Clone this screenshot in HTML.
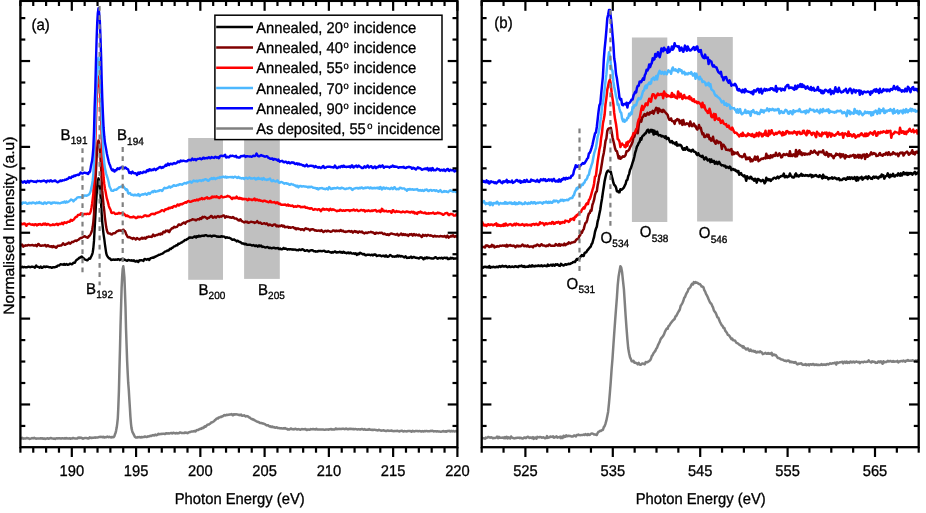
<!DOCTYPE html>
<html><head><meta charset="utf-8"><title>XAS spectra</title>
<style>
html,body{margin:0;padding:0;background:#fff;}
body{width:926px;height:513px;overflow:hidden;}
svg{display:block;will-change:transform;}
text{font-family:"Liberation Sans",sans-serif;fill:#000;text-rendering:geometricPrecision;stroke:#000;stroke-width:0.3px;}
</style></head><body>
<svg width="926" height="513" viewBox="0 0 926 513">
<rect x="0" y="0" width="926" height="513" fill="#fff"/>
<rect x="188.2" y="138" width="34.8" height="141.8" fill="#c0c0c0"/>
<rect x="244.1" y="137.6" width="35.7" height="141.3" fill="#c0c0c0"/>
<rect x="631.9" y="37.5" width="35.4" height="184.5" fill="#c0c0c0"/>
<rect x="697.1" y="37.0" width="35.7" height="184.5" fill="#c0c0c0"/>
<defs><clipPath id="clipA"><rect x="20.4" y="0.9" width="437.0" height="446.3"/></clipPath><clipPath id="clipB"><rect x="481.7" y="0.9" width="437.00000000000006" height="446.3"/></clipPath></defs>
<g clip-path="url(#clipA)">
<path d="M20.1,267.1 L20.7,267.4 L21.4,267.4 L22.0,266.7 L22.7,266.9 L23.3,267.4 L24.0,267.0 L24.6,267.0 L25.2,267.3 L25.9,267.2 L26.5,267.1 L27.2,267.2 L27.8,266.9 L28.5,266.7 L29.1,266.8 L29.7,267.0 L30.4,267.2 L31.0,266.9 L31.7,266.7 L32.3,266.7 L32.9,266.9 L33.6,266.9 L34.2,267.3 L34.9,267.7 L35.5,266.5 L36.2,265.5 L36.8,266.3 L37.4,266.8 L38.1,266.9 L38.7,267.1 L39.4,267.7 L40.0,267.3 L40.7,266.5 L41.3,267.5 L41.9,267.9 L42.6,267.4 L43.2,267.1 L43.9,266.4 L44.5,266.6 L45.2,267.2 L45.8,266.7 L46.4,266.5 L47.1,266.9 L47.7,266.8 L48.4,266.9 L49.0,267.2 L49.7,267.3 L50.3,267.1 L50.9,267.3 L51.6,267.8 L52.2,267.7 L52.9,267.1 L53.5,267.3 L54.2,267.3 L54.8,267.3 L55.4,266.9 L56.1,266.7 L56.7,266.8 L57.4,265.8 L58.0,265.5 L58.6,265.6 L59.3,265.5 L59.9,264.8 L60.6,264.2 L61.2,264.4 L61.9,264.5 L62.5,264.5 L63.1,264.8 L63.8,264.2 L64.4,264.0 L65.1,264.9 L65.7,264.7 L66.4,264.0 L67.0,264.3 L67.6,264.7 L68.3,264.7 L68.9,264.5 L69.6,263.7 L70.2,263.7 L70.9,264.0 L71.5,264.2 L72.1,264.3 L72.8,263.4 L73.4,262.6 L74.1,262.8 L74.7,262.8 L75.4,261.6 L76.0,260.5 L76.6,259.9 L77.3,259.4 L77.9,259.1 L78.6,258.6 L79.2,257.9 L79.9,257.5 L80.5,257.6 L81.1,256.9 L81.8,256.5 L82.4,257.5 L83.1,257.6 L83.7,258.3 L84.3,258.9 L85.0,259.4 L85.6,259.8 L86.3,259.9 L86.9,260.3 L87.6,260.2 L88.2,259.4 L88.8,258.6 L89.5,258.9 L90.1,258.7 L90.8,257.2 L91.4,256.1 L92.1,254.6 L92.7,252.5 L93.3,248.5 L94.0,240.9 L94.6,229.4 L95.3,217.3 L95.9,205.3 L96.6,194.6 L97.2,186.9 L97.8,181.6 L98.5,178.3 L99.1,180.9 L99.8,186.8 L100.4,194.3 L101.1,203.2 L101.7,214.3 L102.3,222.8 L103.0,229.3 L103.6,234.6 L104.3,239.2 L104.9,244.1 L105.6,249.0 L106.2,253.2 L106.8,255.2 L107.5,256.4 L108.1,257.3 L108.8,258.0 L109.4,258.5 L110.0,258.5 L110.7,259.5 L111.3,260.0 L112.0,259.6 L112.6,259.8 L113.3,259.7 L113.9,259.5 L114.5,259.8 L115.2,259.9 L115.8,259.4 L116.5,259.6 L117.1,259.8 L117.8,259.2 L118.4,259.1 L119.0,259.3 L119.7,260.1 L120.3,259.8 L121.0,259.4 L121.6,259.1 L122.3,259.0 L122.9,260.0 L123.5,259.9 L124.2,259.5 L124.8,259.7 L125.5,260.2 L126.1,260.4 L126.8,260.8 L127.4,260.8 L128.0,260.0 L128.7,260.0 L129.3,260.3 L130.0,260.4 L130.6,260.5 L131.3,260.7 L131.9,260.2 L132.5,260.5 L133.2,260.9 L133.8,260.3 L134.5,260.8 L135.1,261.6 L135.7,261.6 L136.4,261.2 L137.0,260.7 L137.7,261.6 L138.3,262.1 L139.0,260.8 L139.6,260.2 L140.2,260.5 L140.9,260.2 L141.5,260.1 L142.2,260.3 L142.8,260.5 L143.5,260.9 L144.1,259.5 L144.7,259.0 L145.4,259.2 L146.0,259.4 L146.7,259.8 L147.3,259.5 L148.0,258.9 L148.6,259.2 L149.2,260.0 L149.9,258.9 L150.5,258.2 L151.2,258.1 L151.8,257.8 L152.5,257.5 L153.1,257.9 L153.7,257.7 L154.4,256.8 L155.0,257.0 L155.7,256.7 L156.3,256.2 L157.0,255.9 L157.6,255.7 L158.2,255.2 L158.9,254.8 L159.5,254.8 L160.2,254.5 L160.8,254.2 L161.4,253.9 L162.1,253.8 L162.7,253.5 L163.4,252.9 L164.0,252.4 L164.7,252.0 L165.3,251.4 L165.9,251.4 L166.6,251.2 L167.2,250.4 L167.9,250.5 L168.5,250.5 L169.2,249.9 L169.8,248.8 L170.4,248.6 L171.1,249.0 L171.7,248.0 L172.4,247.7 L173.0,247.6 L173.7,246.6 L174.3,246.4 L174.9,246.3 L175.6,245.9 L176.2,245.1 L176.9,245.2 L177.5,245.2 L178.2,243.7 L178.8,243.8 L179.4,243.8 L180.1,243.3 L180.7,243.0 L181.4,242.4 L182.0,242.3 L182.7,241.6 L183.3,241.4 L183.9,241.1 L184.6,240.2 L185.2,240.0 L185.9,240.1 L186.5,239.7 L187.1,238.9 L187.8,238.9 L188.4,238.3 L189.1,237.5 L189.7,237.9 L190.4,237.5 L191.0,237.4 L191.6,237.6 L192.3,237.8 L192.9,237.4 L193.6,236.8 L194.2,237.0 L194.9,236.3 L195.5,237.1 L196.1,237.5 L196.8,236.2 L197.4,236.6 L198.1,236.7 L198.7,235.7 L199.4,235.9 L200.0,236.6 L200.6,236.2 L201.3,235.8 L201.9,236.0 L202.6,235.7 L203.2,235.7 L203.9,236.0 L204.5,235.6 L205.1,235.1 L205.8,235.2 L206.4,235.3 L207.1,235.7 L207.7,236.1 L208.4,236.0 L209.0,236.0 L209.6,235.9 L210.3,235.6 L210.9,235.8 L211.6,236.6 L212.2,236.4 L212.8,235.6 L213.5,235.7 L214.1,235.8 L214.8,235.7 L215.4,235.9 L216.1,236.1 L216.7,236.6 L217.3,236.7 L218.0,236.4 L218.6,236.8 L219.3,236.6 L219.9,236.9 L220.6,236.8 L221.2,236.2 L221.8,236.4 L222.5,236.7 L223.1,236.5 L223.8,236.6 L224.4,236.7 L225.1,237.3 L225.7,237.9 L226.3,237.4 L227.0,237.3 L227.6,237.5 L228.3,237.9 L228.9,237.9 L229.6,237.8 L230.2,238.3 L230.8,238.6 L231.5,239.1 L232.1,239.8 L232.8,239.7 L233.4,239.7 L234.1,239.4 L234.7,239.7 L235.3,240.4 L236.0,240.6 L236.6,241.4 L237.3,240.8 L237.9,240.7 L238.5,241.4 L239.2,241.8 L239.8,242.0 L240.5,242.0 L241.1,242.7 L241.8,243.4 L242.4,243.6 L243.0,243.4 L243.7,243.4 L244.3,244.1 L245.0,244.4 L245.6,243.7 L246.3,244.1 L246.9,244.8 L247.5,244.9 L248.2,244.8 L248.8,244.9 L249.5,244.7 L250.1,244.7 L250.8,245.0 L251.4,245.1 L252.0,245.6 L252.7,245.3 L253.3,245.0 L254.0,245.3 L254.6,245.8 L255.3,246.1 L255.9,245.4 L256.5,245.4 L257.2,246.1 L257.8,246.7 L258.5,246.0 L259.1,245.3 L259.8,246.4 L260.4,246.2 L261.0,245.5 L261.7,246.2 L262.3,247.0 L263.0,246.7 L263.6,246.7 L264.2,247.0 L264.9,247.4 L265.5,247.5 L266.2,247.4 L266.8,247.2 L267.5,247.0 L268.1,247.3 L268.7,247.8 L269.4,248.1 L270.0,247.6 L270.7,247.8 L271.3,248.3 L272.0,248.2 L272.6,247.9 L273.2,248.0 L273.9,247.6 L274.5,247.8 L275.2,248.5 L275.8,248.2 L276.5,248.4 L277.1,248.3 L277.7,247.9 L278.4,248.3 L279.0,249.1 L279.7,248.8 L280.3,248.4 L281.0,249.3 L281.6,249.2 L282.2,249.3 L282.9,248.9 L283.5,247.9 L284.2,248.5 L284.8,248.9 L285.5,248.5 L286.1,248.6 L286.7,249.1 L287.4,249.7 L288.0,249.2 L288.7,249.2 L289.3,249.5 L289.9,249.2 L290.6,249.3 L291.2,249.3 L291.9,249.5 L292.5,249.7 L293.2,249.4 L293.8,249.7 L294.4,249.6 L295.1,249.4 L295.7,249.8 L296.4,250.2 L297.0,250.0 L297.7,250.1 L298.3,250.3 L298.9,249.7 L299.6,249.5 L300.2,249.8 L300.9,250.1 L301.5,249.6 L302.2,249.2 L302.8,249.4 L303.4,249.6 L304.1,250.2 L304.7,250.9 L305.4,250.8 L306.0,250.6 L306.7,250.2 L307.3,250.1 L307.9,250.6 L308.6,251.3 L309.2,251.3 L309.9,250.6 L310.5,250.4 L311.2,250.3 L311.8,250.1 L312.4,250.2 L313.1,250.6 L313.7,251.3 L314.4,251.3 L315.0,251.2 L315.6,251.7 L316.3,251.4 L316.9,251.4 L317.6,251.6 L318.2,251.0 L318.9,250.9 L319.5,251.1 L320.1,251.0 L320.8,250.9 L321.4,251.1 L322.1,251.3 L322.7,251.0 L323.4,250.9 L324.0,250.8 L324.6,250.9 L325.3,251.6 L325.9,251.7 L326.6,251.6 L327.2,251.8 L327.9,251.5 L328.5,251.3 L329.1,251.7 L329.8,252.1 L330.4,252.1 L331.1,252.7 L331.7,252.6 L332.4,252.1 L333.0,252.6 L333.6,252.3 L334.3,251.7 L334.9,251.4 L335.6,251.7 L336.2,252.5 L336.9,252.6 L337.5,252.3 L338.1,252.2 L338.8,252.3 L339.4,251.8 L340.1,251.8 L340.7,252.5 L341.3,252.0 L342.0,252.8 L342.6,252.8 L343.3,251.8 L343.9,251.9 L344.6,252.7 L345.2,252.8 L345.8,252.7 L346.5,253.2 L347.1,253.1 L347.8,252.6 L348.4,252.4 L349.1,253.4 L349.7,253.2 L350.3,252.5 L351.0,252.9 L351.6,253.4 L352.3,253.6 L352.9,253.6 L353.6,253.3 L354.2,253.4 L354.8,254.0 L355.5,253.2 L356.1,253.6 L356.8,254.9 L357.4,254.2 L358.1,253.5 L358.7,254.3 L359.3,253.8 L360.0,252.8 L360.6,252.9 L361.3,253.4 L361.9,253.7 L362.6,254.1 L363.2,254.5 L363.8,253.9 L364.5,254.1 L365.1,255.1 L365.8,255.4 L366.4,255.1 L367.0,254.8 L367.7,254.9 L368.3,254.6 L369.0,254.6 L369.6,254.9 L370.3,255.1 L370.9,255.3 L371.5,254.6 L372.2,254.6 L372.8,255.4 L373.5,255.0 L374.1,254.5 L374.8,254.7 L375.4,254.4 L376.0,255.0 L376.7,256.0 L377.3,255.9 L378.0,255.7 L378.6,255.4 L379.3,255.5 L379.9,255.3 L380.5,255.6 L381.2,256.2 L381.8,256.2 L382.5,255.8 L383.1,255.6 L383.8,255.7 L384.4,256.3 L385.0,256.5 L385.7,255.4 L386.3,255.5 L387.0,256.7 L387.6,256.9 L388.3,256.6 L388.9,256.4 L389.5,255.6 L390.2,255.0 L390.8,255.3 L391.5,255.9 L392.1,256.4 L392.7,256.7 L393.4,256.5 L394.0,256.6 L394.7,256.7 L395.3,256.2 L396.0,256.6 L396.6,256.6 L397.2,255.5 L397.9,255.5 L398.5,256.4 L399.2,255.8 L399.8,255.7 L400.5,256.6 L401.1,256.3 L401.7,256.0 L402.4,256.3 L403.0,256.6 L403.7,257.2 L404.3,257.5 L405.0,256.7 L405.6,256.3 L406.2,257.1 L406.9,258.0 L407.5,257.9 L408.2,257.4 L408.8,257.9 L409.5,257.8 L410.1,257.2 L410.7,256.8 L411.4,256.7 L412.0,257.9 L412.7,257.6 L413.3,257.0 L414.0,257.0 L414.6,257.1 L415.2,257.8 L415.9,257.7 L416.5,257.7 L417.2,258.1 L417.8,258.0 L418.4,258.3 L419.1,258.5 L419.7,257.8 L420.4,257.4 L421.0,257.3 L421.7,257.7 L422.3,257.8 L422.9,258.6 L423.6,259.3 L424.2,258.4 L424.9,257.7 L425.5,258.4 L426.2,257.9 L426.8,257.2 L427.4,258.2 L428.1,258.1 L428.7,257.6 L429.4,257.8 L430.0,258.2 L430.7,258.4 L431.3,258.3 L431.9,258.5 L432.6,258.4 L433.2,258.6 L433.9,258.4 L434.5,257.6 L435.2,257.3 L435.8,257.3 L436.4,257.7 L437.1,258.5 L437.7,258.8 L438.4,258.3 L439.0,257.9 L439.7,257.9 L440.3,258.2 L440.9,258.2 L441.6,257.8 L442.2,257.9 L442.9,258.7 L443.5,258.1 L444.1,257.7 L444.8,257.7 L445.4,257.9 L446.1,258.3 L446.7,257.6 L447.4,257.9 L448.0,259.1 L448.6,259.1 L449.3,258.9 L449.9,258.8 L450.6,257.8 L451.2,258.0 L451.9,258.5 L452.5,257.9 L453.1,258.3 L453.8,258.8 L454.4,258.4 L455.1,258.6 L455.7,258.5 L456.4,258.4 L457.0,258.4 L457.6,258.4 L458.3,258.3" fill="none" stroke="#000000" stroke-width="2.4" stroke-linejoin="round" stroke-linecap="butt"/>
<path d="M20.1,245.8 L20.7,245.6 L21.4,245.3 L22.0,244.5 L22.7,245.3 L23.3,246.7 L24.0,245.8 L24.6,245.6 L25.2,245.8 L25.9,245.3 L26.5,245.5 L27.2,245.6 L27.8,245.1 L28.5,244.9 L29.1,245.2 L29.7,245.4 L30.4,245.4 L31.0,245.2 L31.7,245.1 L32.3,244.9 L32.9,245.2 L33.6,245.6 L34.2,245.4 L34.9,245.5 L35.5,245.0 L36.2,245.1 L36.8,246.3 L37.4,245.4 L38.1,243.9 L38.7,243.9 L39.4,244.9 L40.0,245.6 L40.7,245.7 L41.3,245.9 L41.9,245.6 L42.6,245.4 L43.2,245.4 L43.9,245.6 L44.5,245.3 L45.2,244.9 L45.8,245.6 L46.4,246.5 L47.1,246.2 L47.7,245.2 L48.4,245.4 L49.0,246.3 L49.7,246.5 L50.3,246.7 L50.9,246.1 L51.6,246.1 L52.2,247.3 L52.9,246.3 L53.5,246.0 L54.2,247.0 L54.8,247.0 L55.4,246.8 L56.1,247.7 L56.7,247.3 L57.4,246.2 L58.0,245.6 L58.6,245.9 L59.3,245.9 L59.9,245.5 L60.6,245.4 L61.2,245.5 L61.9,245.0 L62.5,244.0 L63.1,243.2 L63.8,244.1 L64.4,244.9 L65.1,244.9 L65.7,244.7 L66.4,243.6 L67.0,243.7 L67.6,243.7 L68.3,242.9 L68.9,242.4 L69.6,243.4 L70.2,243.7 L70.9,242.9 L71.5,242.5 L72.1,241.8 L72.8,242.0 L73.4,242.0 L74.1,241.2 L74.7,240.9 L75.4,240.6 L76.0,240.5 L76.6,241.0 L77.3,240.3 L77.9,240.0 L78.6,239.7 L79.2,238.9 L79.9,238.5 L80.5,238.0 L81.1,238.1 L81.8,237.8 L82.4,237.3 L83.1,237.0 L83.7,236.7 L84.3,236.2 L85.0,236.3 L85.6,236.9 L86.3,237.3 L86.9,237.3 L87.6,237.8 L88.2,237.5 L88.8,236.0 L89.5,236.0 L90.1,235.0 L90.8,233.7 L91.4,232.3 L92.1,230.0 L92.7,226.8 L93.3,222.1 L94.0,214.1 L94.6,199.9 L95.3,186.0 L95.9,172.4 L96.6,159.0 L97.2,148.2 L97.8,142.7 L98.5,140.4 L99.1,142.9 L99.8,148.3 L100.4,157.3 L101.1,168.8 L101.7,181.4 L102.3,190.9 L103.0,199.0 L103.6,205.4 L104.3,211.0 L104.9,217.3 L105.6,222.6 L106.2,227.1 L106.8,230.0 L107.5,232.1 L108.1,233.3 L108.8,233.4 L109.4,233.6 L110.0,233.5 L110.7,234.1 L111.3,234.4 L112.0,234.5 L112.6,233.7 L113.3,233.4 L113.9,233.2 L114.5,233.2 L115.2,233.0 L115.8,232.4 L116.5,231.7 L117.1,231.2 L117.8,231.1 L118.4,230.5 L119.0,230.7 L119.7,230.5 L120.3,230.5 L121.0,230.7 L121.6,230.8 L122.3,230.4 L122.9,229.7 L123.5,229.8 L124.2,230.8 L124.8,230.9 L125.5,232.2 L126.1,234.2 L126.8,235.2 L127.4,236.6 L128.0,237.3 L128.7,237.4 L129.3,237.0 L130.0,237.3 L130.6,238.1 L131.3,237.9 L131.9,238.3 L132.5,239.0 L133.2,238.0 L133.8,238.0 L134.5,238.3 L135.1,238.8 L135.7,239.6 L136.4,238.8 L137.0,238.1 L137.7,238.6 L138.3,238.8 L139.0,239.3 L139.6,239.6 L140.2,238.8 L140.9,238.7 L141.5,237.9 L142.2,237.7 L142.8,238.7 L143.5,238.4 L144.1,237.7 L144.7,237.8 L145.4,238.7 L146.0,238.4 L146.7,237.1 L147.3,237.4 L148.0,237.0 L148.6,236.5 L149.2,236.8 L149.9,236.9 L150.5,236.6 L151.2,236.6 L151.8,236.9 L152.5,235.6 L153.1,234.5 L153.7,234.9 L154.4,236.0 L155.0,236.0 L155.7,235.3 L156.3,235.0 L157.0,235.0 L157.6,235.0 L158.2,234.6 L158.9,233.9 L159.5,234.0 L160.2,234.7 L160.8,233.5 L161.4,233.6 L162.1,234.2 L162.7,232.8 L163.4,231.6 L164.0,231.8 L164.7,232.5 L165.3,231.8 L165.9,230.6 L166.6,231.0 L167.2,231.2 L167.9,230.4 L168.5,231.4 L169.2,232.2 L169.8,231.1 L170.4,229.8 L171.1,229.4 L171.7,228.4 L172.4,227.9 L173.0,228.2 L173.7,227.3 L174.3,226.7 L174.9,227.1 L175.6,227.4 L176.2,226.9 L176.9,226.9 L177.5,226.2 L178.2,225.1 L178.8,224.4 L179.4,224.4 L180.1,225.1 L180.7,224.9 L181.4,224.5 L182.0,223.8 L182.7,223.1 L183.3,223.0 L183.9,222.4 L184.6,223.2 L185.2,223.7 L185.9,222.4 L186.5,221.6 L187.1,221.6 L187.8,221.2 L188.4,221.1 L189.1,221.0 L189.7,220.5 L190.4,220.4 L191.0,220.2 L191.6,219.9 L192.3,219.3 L192.9,219.3 L193.6,219.5 L194.2,219.6 L194.9,219.7 L195.5,220.3 L196.1,220.4 L196.8,219.6 L197.4,219.4 L198.1,219.1 L198.7,219.2 L199.4,219.5 L200.0,218.3 L200.6,218.3 L201.3,219.0 L201.9,217.5 L202.6,216.8 L203.2,217.6 L203.9,217.0 L204.5,216.7 L205.1,217.0 L205.8,217.5 L206.4,217.9 L207.1,218.7 L207.7,218.3 L208.4,217.7 L209.0,217.8 L209.6,217.3 L210.3,216.8 L210.9,215.9 L211.6,215.9 L212.2,216.9 L212.8,217.7 L213.5,217.6 L214.1,217.1 L214.8,216.5 L215.4,216.9 L216.1,217.7 L216.7,216.8 L217.3,216.3 L218.0,216.0 L218.6,216.6 L219.3,217.1 L219.9,216.5 L220.6,216.5 L221.2,216.7 L221.8,216.4 L222.5,215.8 L223.1,215.5 L223.8,215.4 L224.4,216.1 L225.1,217.7 L225.7,217.0 L226.3,216.2 L227.0,217.1 L227.6,216.8 L228.3,216.8 L228.9,216.9 L229.6,217.4 L230.2,217.6 L230.8,217.3 L231.5,217.9 L232.1,217.8 L232.8,217.0 L233.4,217.1 L234.1,218.2 L234.7,218.6 L235.3,218.6 L236.0,218.4 L236.6,218.6 L237.3,219.5 L237.9,219.7 L238.5,220.4 L239.2,220.6 L239.8,219.6 L240.5,219.3 L241.1,220.4 L241.8,221.2 L242.4,221.3 L243.0,221.7 L243.7,222.1 L244.3,222.5 L245.0,221.8 L245.6,221.5 L246.3,222.2 L246.9,221.7 L247.5,221.9 L248.2,222.9 L248.8,222.8 L249.5,222.3 L250.1,222.1 L250.8,221.8 L251.4,221.7 L252.0,222.0 L252.7,222.1 L253.3,222.2 L254.0,222.3 L254.6,223.0 L255.3,222.5 L255.9,222.4 L256.5,222.2 L257.2,221.1 L257.8,221.9 L258.5,222.8 L259.1,223.1 L259.8,222.6 L260.4,222.5 L261.0,223.2 L261.7,223.8 L262.3,223.8 L263.0,223.6 L263.6,223.4 L264.2,223.2 L264.9,223.5 L265.5,224.0 L266.2,223.8 L266.8,223.3 L267.5,224.0 L268.1,225.2 L268.7,225.2 L269.4,224.7 L270.0,224.5 L270.7,224.9 L271.3,225.3 L272.0,225.7 L272.6,225.7 L273.2,224.8 L273.9,224.5 L274.5,224.6 L275.2,224.4 L275.8,225.4 L276.5,226.3 L277.1,225.4 L277.7,225.9 L278.4,226.6 L279.0,225.6 L279.7,225.8 L280.3,226.2 L281.0,225.9 L281.6,225.2 L282.2,225.6 L282.9,226.6 L283.5,225.7 L284.2,225.9 L284.8,227.3 L285.5,227.0 L286.1,226.9 L286.7,227.0 L287.4,226.8 L288.0,226.8 L288.7,227.8 L289.3,227.4 L289.9,227.1 L290.6,227.8 L291.2,227.6 L291.9,227.4 L292.5,227.2 L293.2,227.1 L293.8,227.8 L294.4,228.3 L295.1,228.0 L295.7,229.2 L296.4,229.4 L297.0,228.3 L297.7,228.5 L298.3,228.4 L298.9,229.1 L299.6,229.1 L300.2,229.2 L300.9,229.9 L301.5,229.1 L302.2,229.1 L302.8,229.3 L303.4,230.1 L304.1,230.3 L304.7,228.9 L305.4,228.4 L306.0,228.3 L306.7,228.9 L307.3,229.1 L307.9,228.9 L308.6,229.1 L309.2,229.6 L309.9,230.5 L310.5,229.9 L311.2,229.2 L311.8,229.6 L312.4,229.3 L313.1,229.2 L313.7,229.5 L314.4,230.3 L315.0,230.6 L315.6,230.2 L316.3,230.5 L316.9,230.9 L317.6,230.6 L318.2,230.7 L318.9,230.5 L319.5,230.6 L320.1,231.1 L320.8,230.8 L321.4,230.1 L322.1,230.9 L322.7,231.4 L323.4,232.1 L324.0,231.8 L324.6,231.0 L325.3,231.1 L325.9,230.8 L326.6,231.4 L327.2,231.0 L327.9,230.6 L328.5,231.0 L329.1,231.1 L329.8,231.3 L330.4,231.7 L331.1,231.8 L331.7,231.5 L332.4,231.0 L333.0,230.5 L333.6,230.4 L334.3,230.6 L334.9,231.2 L335.6,231.3 L336.2,230.5 L336.9,230.9 L337.5,231.1 L338.1,230.6 L338.8,230.8 L339.4,231.3 L340.1,230.5 L340.7,229.9 L341.3,230.9 L342.0,231.2 L342.6,230.8 L343.3,230.8 L343.9,231.7 L344.6,231.8 L345.2,231.5 L345.8,232.0 L346.5,231.6 L347.1,231.5 L347.8,231.5 L348.4,231.1 L349.1,230.9 L349.7,231.5 L350.3,231.8 L351.0,231.3 L351.6,231.0 L352.3,232.0 L352.9,232.7 L353.6,232.0 L354.2,231.5 L354.8,231.0 L355.5,231.4 L356.1,232.1 L356.8,231.5 L357.4,231.9 L358.1,232.8 L358.7,232.0 L359.3,231.5 L360.0,231.7 L360.6,232.1 L361.3,232.2 L361.9,231.5 L362.6,232.2 L363.2,233.0 L363.8,233.0 L364.5,233.4 L365.1,232.8 L365.8,232.5 L366.4,232.9 L367.0,233.1 L367.7,232.8 L368.3,232.3 L369.0,232.4 L369.6,232.4 L370.3,232.2 L370.9,231.8 L371.5,232.1 L372.2,232.5 L372.8,232.3 L373.5,232.7 L374.1,233.1 L374.8,233.9 L375.4,233.9 L376.0,232.6 L376.7,232.7 L377.3,233.0 L378.0,233.2 L378.6,233.2 L379.3,232.8 L379.9,232.9 L380.5,233.0 L381.2,232.6 L381.8,232.6 L382.5,233.3 L383.1,234.1 L383.8,234.1 L384.4,233.5 L385.0,233.9 L385.7,234.3 L386.3,234.7 L387.0,234.8 L387.6,234.2 L388.3,234.5 L388.9,235.2 L389.5,234.5 L390.2,234.0 L390.8,233.6 L391.5,233.4 L392.1,233.8 L392.7,233.9 L393.4,234.1 L394.0,234.1 L394.7,234.3 L395.3,234.6 L396.0,234.7 L396.6,234.3 L397.2,233.8 L397.9,234.5 L398.5,235.6 L399.2,234.9 L399.8,234.6 L400.5,234.2 L401.1,233.4 L401.7,233.9 L402.4,235.1 L403.0,234.9 L403.7,234.0 L404.3,235.0 L405.0,234.6 L405.6,234.3 L406.2,235.2 L406.9,234.9 L407.5,234.8 L408.2,235.9 L408.8,235.4 L409.5,234.3 L410.1,234.7 L410.7,234.5 L411.4,234.1 L412.0,235.0 L412.7,235.7 L413.3,234.4 L414.0,234.0 L414.6,234.9 L415.2,235.4 L415.9,234.7 L416.5,234.5 L417.2,235.2 L417.8,235.4 L418.4,235.5 L419.1,234.6 L419.7,235.2 L420.4,236.0 L421.0,236.0 L421.7,237.1 L422.3,236.4 L422.9,234.8 L423.6,235.2 L424.2,235.7 L424.9,235.2 L425.5,234.9 L426.2,235.8 L426.8,236.0 L427.4,234.9 L428.1,234.9 L428.7,235.1 L429.4,235.3 L430.0,235.7 L430.7,235.2 L431.3,235.7 L431.9,235.9 L432.6,236.0 L433.2,236.7 L433.9,236.4 L434.5,235.7 L435.2,235.9 L435.8,236.5 L436.4,236.5 L437.1,236.2 L437.7,236.3 L438.4,236.4 L439.0,236.6 L439.7,236.3 L440.3,235.9 L440.9,236.2 L441.6,236.1 L442.2,236.2 L442.9,236.6 L443.5,236.6 L444.1,236.2 L444.8,235.9 L445.4,236.8 L446.1,237.4 L446.7,236.3 L447.4,235.6 L448.0,236.8 L448.6,237.7 L449.3,237.0 L449.9,236.8 L450.6,236.2 L451.2,235.7 L451.9,236.6 L452.5,235.8 L453.1,235.2 L453.8,236.2 L454.4,236.9 L455.1,236.3 L455.7,236.0 L456.4,236.8 L457.0,236.5 L457.6,235.3 L458.3,235.5" fill="none" stroke="#800000" stroke-width="2.4" stroke-linejoin="round" stroke-linecap="butt"/>
<path d="M20.1,225.2 L20.7,224.2 L21.4,223.6 L22.0,224.3 L22.7,224.0 L23.3,224.1 L24.0,223.5 L24.6,223.5 L25.2,224.0 L25.9,225.4 L26.5,225.8 L27.2,224.4 L27.8,224.2 L28.5,224.0 L29.1,223.7 L29.7,223.8 L30.4,224.4 L31.0,224.5 L31.7,224.7 L32.3,224.7 L32.9,224.3 L33.6,225.0 L34.2,225.2 L34.9,224.4 L35.5,224.1 L36.2,224.5 L36.8,225.4 L37.4,225.0 L38.1,224.2 L38.7,224.7 L39.4,224.4 L40.0,223.9 L40.7,224.6 L41.3,225.0 L41.9,224.7 L42.6,224.7 L43.2,223.6 L43.9,223.7 L44.5,224.5 L45.2,223.4 L45.8,223.9 L46.4,224.9 L47.1,224.6 L47.7,223.9 L48.4,224.1 L49.0,224.6 L49.7,225.1 L50.3,225.4 L50.9,225.0 L51.6,225.1 L52.2,225.0 L52.9,224.2 L53.5,224.5 L54.2,225.1 L54.8,224.8 L55.4,224.3 L56.1,224.5 L56.7,223.8 L57.4,224.0 L58.0,225.1 L58.6,224.1 L59.3,223.8 L59.9,224.0 L60.6,224.1 L61.2,223.5 L61.9,222.7 L62.5,223.6 L63.1,224.3 L63.8,223.0 L64.4,222.2 L65.1,222.9 L65.7,222.7 L66.4,223.0 L67.0,222.6 L67.6,221.8 L68.3,221.6 L68.9,221.7 L69.6,221.8 L70.2,220.8 L70.9,219.8 L71.5,220.2 L72.1,220.8 L72.8,220.1 L73.4,219.8 L74.1,219.3 L74.7,218.2 L75.4,217.3 L76.0,216.8 L76.6,217.1 L77.3,216.2 L77.9,214.9 L78.6,214.9 L79.2,214.8 L79.9,214.9 L80.5,214.2 L81.1,213.2 L81.8,213.6 L82.4,214.6 L83.1,214.8 L83.7,214.4 L84.3,213.9 L85.0,214.0 L85.6,214.0 L86.3,214.2 L86.9,213.9 L87.6,213.6 L88.2,213.9 L88.8,214.0 L89.5,213.9 L90.1,213.2 L90.8,211.2 L91.4,208.0 L92.1,203.7 L92.7,198.9 L93.3,193.8 L94.0,180.0 L94.6,159.2 L95.3,142.9 L95.9,123.2 L96.6,102.3 L97.2,87.0 L97.8,79.5 L98.5,76.4 L99.1,80.2 L99.8,88.0 L100.4,100.3 L101.1,116.6 L101.7,136.8 L102.3,153.1 L103.0,167.3 L103.6,177.5 L104.3,184.0 L104.9,188.2 L105.6,191.7 L106.2,195.2 L106.8,198.4 L107.5,200.5 L108.1,202.9 L108.8,205.8 L109.4,207.6 L110.0,208.6 L110.7,210.3 L111.3,212.6 L112.0,213.1 L112.6,212.6 L113.3,212.6 L113.9,212.5 L114.5,213.2 L115.2,214.1 L115.8,213.9 L116.5,213.7 L117.1,213.8 L117.8,213.7 L118.4,213.1 L119.0,212.8 L119.7,213.5 L120.3,213.3 L121.0,213.1 L121.6,213.1 L122.3,213.2 L122.9,213.8 L123.5,214.0 L124.2,213.8 L124.8,214.7 L125.5,215.4 L126.1,216.1 L126.8,215.5 L127.4,215.5 L128.0,216.4 L128.7,216.3 L129.3,216.8 L130.0,217.3 L130.6,217.4 L131.3,217.1 L131.9,217.3 L132.5,217.2 L133.2,216.6 L133.8,217.0 L134.5,216.9 L135.1,217.5 L135.7,218.1 L136.4,218.1 L137.0,217.7 L137.7,216.7 L138.3,216.8 L139.0,217.2 L139.6,216.9 L140.2,216.8 L140.9,216.9 L141.5,217.3 L142.2,217.0 L142.8,216.7 L143.5,216.6 L144.1,215.7 L144.7,215.5 L145.4,215.3 L146.0,215.5 L146.7,216.2 L147.3,216.1 L148.0,215.7 L148.6,216.1 L149.2,215.8 L149.9,215.1 L150.5,214.8 L151.2,213.9 L151.8,214.1 L152.5,213.9 L153.1,213.7 L153.7,214.2 L154.4,214.2 L155.0,214.0 L155.7,213.0 L156.3,213.0 L157.0,212.9 L157.6,212.4 L158.2,212.5 L158.9,212.2 L159.5,211.9 L160.2,211.4 L160.8,211.2 L161.4,210.4 L162.1,210.2 L162.7,210.4 L163.4,210.6 L164.0,211.3 L164.7,209.9 L165.3,209.2 L165.9,209.7 L166.6,209.0 L167.2,209.1 L167.9,209.1 L168.5,207.9 L169.2,207.8 L169.8,208.2 L170.4,208.1 L171.1,207.4 L171.7,207.3 L172.4,207.8 L173.0,206.9 L173.7,206.1 L174.3,206.2 L174.9,206.0 L175.6,206.5 L176.2,206.5 L176.9,205.2 L177.5,204.5 L178.2,204.7 L178.8,205.6 L179.4,205.3 L180.1,204.2 L180.7,204.3 L181.4,203.9 L182.0,204.4 L182.7,204.0 L183.3,203.2 L183.9,203.2 L184.6,202.9 L185.2,202.2 L185.9,202.5 L186.5,202.7 L187.1,201.8 L187.8,201.3 L188.4,200.9 L189.1,201.3 L189.7,201.8 L190.4,201.7 L191.0,201.7 L191.6,201.5 L192.3,200.9 L192.9,200.8 L193.6,200.8 L194.2,200.3 L194.9,200.2 L195.5,200.6 L196.1,200.3 L196.8,199.5 L197.4,199.6 L198.1,200.4 L198.7,199.9 L199.4,199.0 L200.0,198.9 L200.6,199.3 L201.3,198.5 L201.9,198.1 L202.6,199.2 L203.2,198.6 L203.9,198.6 L204.5,199.1 L205.1,198.2 L205.8,198.0 L206.4,197.6 L207.1,197.2 L207.7,198.5 L208.4,198.3 L209.0,198.2 L209.6,198.5 L210.3,198.1 L210.9,198.1 L211.6,196.8 L212.2,196.5 L212.8,197.4 L213.5,197.1 L214.1,196.5 L214.8,197.0 L215.4,197.2 L216.1,196.4 L216.7,196.3 L217.3,197.3 L218.0,197.3 L218.6,197.3 L219.3,198.1 L219.9,197.7 L220.6,196.6 L221.2,196.1 L221.8,196.5 L222.5,197.3 L223.1,197.4 L223.8,197.2 L224.4,197.0 L225.1,196.9 L225.7,196.8 L226.3,196.6 L227.0,196.3 L227.6,195.8 L228.3,196.2 L228.9,196.5 L229.6,196.4 L230.2,197.2 L230.8,197.7 L231.5,198.6 L232.1,199.1 L232.8,197.8 L233.4,197.8 L234.1,198.3 L234.7,197.8 L235.3,198.1 L236.0,198.2 L236.6,196.6 L237.3,197.3 L237.9,198.3 L238.5,198.6 L239.2,198.7 L239.8,197.7 L240.5,198.6 L241.1,198.8 L241.8,198.3 L242.4,199.3 L243.0,199.4 L243.7,198.8 L244.3,198.9 L245.0,199.3 L245.6,199.0 L246.3,199.0 L246.9,199.6 L247.5,200.3 L248.2,200.0 L248.8,198.8 L249.5,199.3 L250.1,199.6 L250.8,199.5 L251.4,199.7 L252.0,200.2 L252.7,199.9 L253.3,199.5 L254.0,198.8 L254.6,198.5 L255.3,200.2 L255.9,200.3 L256.5,199.5 L257.2,199.4 L257.8,199.9 L258.5,200.5 L259.1,199.9 L259.8,200.2 L260.4,200.8 L261.0,200.9 L261.7,200.6 L262.3,201.1 L263.0,201.5 L263.6,200.9 L264.2,200.6 L264.9,200.6 L265.5,201.3 L266.2,201.3 L266.8,201.5 L267.5,201.9 L268.1,202.1 L268.7,202.3 L269.4,201.9 L270.0,200.9 L270.7,201.2 L271.3,202.4 L272.0,202.4 L272.6,202.4 L273.2,202.3 L273.9,202.1 L274.5,202.0 L275.2,202.8 L275.8,203.3 L276.5,202.7 L277.1,202.3 L277.7,202.5 L278.4,203.7 L279.0,204.1 L279.7,203.4 L280.3,203.9 L281.0,204.8 L281.6,204.8 L282.2,204.6 L282.9,204.8 L283.5,204.8 L284.2,204.8 L284.8,204.4 L285.5,204.8 L286.1,205.3 L286.7,205.6 L287.4,204.8 L288.0,204.4 L288.7,205.7 L289.3,205.4 L289.9,205.3 L290.6,205.9 L291.2,206.0 L291.9,205.7 L292.5,205.5 L293.2,206.2 L293.8,206.9 L294.4,206.6 L295.1,206.3 L295.7,206.4 L296.4,206.9 L297.0,206.5 L297.7,205.7 L298.3,206.2 L298.9,206.4 L299.6,206.2 L300.2,206.8 L300.9,207.3 L301.5,206.9 L302.2,207.2 L302.8,207.0 L303.4,207.0 L304.1,207.1 L304.7,206.5 L305.4,207.5 L306.0,207.9 L306.7,207.5 L307.3,207.5 L307.9,208.1 L308.6,208.4 L309.2,208.3 L309.9,208.8 L310.5,208.6 L311.2,208.1 L311.8,208.3 L312.4,209.0 L313.1,209.7 L313.7,209.8 L314.4,209.5 L315.0,209.0 L315.6,209.4 L316.3,209.4 L316.9,209.4 L317.6,209.9 L318.2,209.4 L318.9,209.1 L319.5,209.4 L320.1,210.1 L320.8,211.2 L321.4,210.5 L322.1,209.6 L322.7,208.7 L323.4,208.8 L324.0,209.7 L324.6,209.3 L325.3,209.6 L325.9,209.4 L326.6,209.0 L327.2,209.7 L327.9,209.3 L328.5,209.6 L329.1,210.5 L329.8,209.7 L330.4,208.7 L331.1,209.5 L331.7,210.1 L332.4,209.4 L333.0,209.3 L333.6,209.7 L334.3,209.8 L334.9,210.2 L335.6,210.4 L336.2,210.8 L336.9,211.2 L337.5,210.8 L338.1,210.7 L338.8,210.9 L339.4,210.8 L340.1,209.8 L340.7,209.9 L341.3,210.4 L342.0,210.7 L342.6,210.7 L343.3,210.3 L343.9,210.4 L344.6,210.9 L345.2,210.8 L345.8,210.1 L346.5,210.2 L347.1,210.1 L347.8,210.1 L348.4,210.2 L349.1,210.3 L349.7,211.1 L350.3,210.8 L351.0,210.1 L351.6,210.2 L352.3,210.4 L352.9,210.1 L353.6,209.5 L354.2,210.0 L354.8,210.5 L355.5,210.5 L356.1,210.1 L356.8,209.8 L357.4,210.2 L358.1,211.1 L358.7,211.1 L359.3,210.6 L360.0,210.6 L360.6,210.2 L361.3,209.9 L361.9,210.2 L362.6,210.5 L363.2,210.6 L363.8,210.0 L364.5,210.4 L365.1,211.6 L365.8,211.1 L366.4,210.6 L367.0,210.8 L367.7,211.0 L368.3,210.3 L369.0,210.6 L369.6,211.0 L370.3,210.9 L370.9,211.2 L371.5,210.5 L372.2,210.5 L372.8,211.0 L373.5,210.7 L374.1,210.2 L374.8,210.4 L375.4,209.9 L376.0,210.6 L376.7,211.5 L377.3,211.0 L378.0,211.3 L378.6,210.9 L379.3,210.5 L379.9,211.5 L380.5,212.0 L381.2,210.4 L381.8,208.8 L382.5,209.3 L383.1,211.0 L383.8,211.2 L384.4,210.8 L385.0,211.2 L385.7,211.0 L386.3,210.8 L387.0,211.5 L387.6,211.6 L388.3,211.5 L388.9,211.1 L389.5,211.2 L390.2,211.3 L390.8,211.6 L391.5,212.8 L392.1,212.0 L392.7,210.2 L393.4,210.3 L394.0,211.3 L394.7,211.9 L395.3,212.2 L396.0,211.6 L396.6,210.9 L397.2,211.7 L397.9,211.6 L398.5,211.5 L399.2,211.9 L399.8,211.8 L400.5,212.2 L401.1,212.2 L401.7,212.3 L402.4,211.7 L403.0,211.5 L403.7,211.9 L404.3,211.9 L405.0,212.4 L405.6,212.2 L406.2,211.5 L406.9,211.4 L407.5,211.6 L408.2,212.2 L408.8,212.0 L409.5,212.2 L410.1,212.7 L410.7,212.2 L411.4,211.6 L412.0,211.8 L412.7,212.6 L413.3,211.8 L414.0,212.1 L414.6,213.4 L415.2,213.1 L415.9,212.7 L416.5,213.6 L417.2,213.9 L417.8,212.6 L418.4,212.2 L419.1,212.5 L419.7,212.5 L420.4,211.6 L421.0,212.0 L421.7,212.7 L422.3,212.5 L422.9,212.8 L423.6,213.1 L424.2,213.0 L424.9,212.4 L425.5,212.8 L426.2,213.7 L426.8,213.4 L427.4,213.4 L428.1,213.7 L428.7,213.0 L429.4,213.5 L430.0,213.4 L430.7,213.2 L431.3,213.4 L431.9,213.2 L432.6,213.0 L433.2,212.5 L433.9,213.4 L434.5,213.9 L435.2,213.5 L435.8,213.3 L436.4,213.5 L437.1,213.1 L437.7,212.6 L438.4,213.1 L439.0,213.2 L439.7,213.0 L440.3,213.4 L440.9,213.6 L441.6,213.6 L442.2,214.3 L442.9,214.8 L443.5,214.7 L444.1,214.3 L444.8,213.7 L445.4,213.2 L446.1,213.2 L446.7,213.0 L447.4,213.0 L448.0,214.1 L448.6,215.0 L449.3,215.1 L449.9,214.2 L450.6,214.0 L451.2,214.0 L451.9,214.2 L452.5,214.5 L453.1,214.5 L453.8,215.6 L454.4,215.6 L455.1,215.6 L455.7,215.3 L456.4,214.3 L457.0,214.8 L457.6,215.6 L458.3,214.9" fill="none" stroke="#ff0000" stroke-width="2.4" stroke-linejoin="round" stroke-linecap="butt"/>
<path d="M20.1,202.8 L20.7,202.8 L21.4,203.7 L22.0,204.0 L22.7,202.7 L23.3,202.5 L24.0,202.9 L24.6,202.9 L25.2,202.5 L25.9,202.6 L26.5,203.3 L27.2,203.8 L27.8,203.8 L28.5,203.4 L29.1,202.7 L29.7,203.4 L30.4,203.2 L31.0,202.8 L31.7,203.4 L32.3,202.6 L32.9,202.5 L33.6,202.6 L34.2,203.0 L34.9,203.2 L35.5,203.6 L36.2,203.0 L36.8,202.4 L37.4,202.8 L38.1,203.1 L38.7,202.6 L39.4,202.1 L40.0,203.0 L40.7,202.6 L41.3,202.9 L41.9,203.6 L42.6,203.6 L43.2,203.9 L43.9,203.1 L44.5,202.4 L45.2,202.7 L45.8,203.3 L46.4,203.7 L47.1,203.1 L47.7,202.5 L48.4,202.5 L49.0,202.5 L49.7,202.7 L50.3,202.8 L50.9,203.7 L51.6,203.6 L52.2,202.6 L52.9,203.0 L53.5,202.7 L54.2,202.4 L54.8,202.7 L55.4,203.1 L56.1,202.6 L56.7,202.8 L57.4,203.2 L58.0,202.7 L58.6,203.1 L59.3,203.3 L59.9,203.3 L60.6,203.1 L61.2,202.7 L61.9,202.7 L62.5,202.2 L63.1,202.5 L63.8,202.5 L64.4,201.5 L65.1,202.5 L65.7,202.8 L66.4,201.4 L67.0,202.1 L67.6,202.2 L68.3,201.8 L68.9,201.4 L69.6,200.8 L70.2,200.3 L70.9,199.5 L71.5,199.6 L72.1,200.1 L72.8,200.6 L73.4,201.4 L74.1,200.5 L74.7,199.7 L75.4,199.6 L76.0,198.9 L76.6,198.3 L77.3,197.5 L77.9,197.4 L78.6,197.3 L79.2,197.3 L79.9,197.1 L80.5,197.4 L81.1,197.4 L81.8,196.8 L82.4,196.9 L83.1,196.8 L83.7,196.1 L84.3,195.6 L85.0,195.4 L85.6,195.7 L86.3,195.9 L86.9,195.5 L87.6,195.3 L88.2,194.8 L88.8,194.6 L89.5,193.9 L90.1,192.6 L90.8,190.6 L91.4,187.3 L92.1,184.4 L92.7,180.2 L93.3,174.2 L94.0,160.6 L94.6,140.8 L95.3,123.5 L95.9,102.9 L96.6,82.8 L97.2,68.9 L97.8,61.8 L98.5,57.7 L99.1,61.7 L99.8,69.4 L100.4,80.9 L101.1,96.8 L101.7,116.8 L102.3,132.8 L103.0,146.0 L103.6,155.5 L104.3,163.1 L104.9,167.8 L105.6,171.0 L106.2,173.8 L106.8,175.6 L107.5,177.8 L108.1,180.0 L108.8,182.7 L109.4,186.2 L110.0,187.5 L110.7,188.8 L111.3,190.6 L112.0,190.7 L112.6,190.7 L113.3,190.8 L113.9,190.2 L114.5,189.7 L115.2,189.7 L115.8,189.7 L116.5,189.7 L117.1,188.9 L117.8,188.5 L118.4,188.1 L119.0,187.3 L119.7,187.3 L120.3,187.0 L121.0,186.6 L121.6,186.5 L122.3,186.2 L122.9,185.9 L123.5,186.4 L124.2,187.5 L124.8,188.2 L125.5,189.2 L126.1,190.1 L126.8,189.3 L127.4,190.1 L128.0,192.9 L128.7,193.7 L129.3,193.1 L130.0,193.0 L130.6,193.9 L131.3,194.9 L131.9,194.8 L132.5,194.7 L133.2,195.2 L133.8,195.5 L134.5,194.6 L135.1,194.6 L135.7,195.3 L136.4,195.0 L137.0,195.3 L137.7,195.4 L138.3,194.0 L139.0,194.6 L139.6,196.1 L140.2,195.4 L140.9,194.8 L141.5,194.8 L142.2,194.4 L142.8,194.3 L143.5,194.6 L144.1,194.2 L144.7,193.8 L145.4,193.5 L146.0,194.1 L146.7,194.8 L147.3,194.4 L148.0,193.6 L148.6,192.9 L149.2,193.1 L149.9,193.9 L150.5,192.8 L151.2,192.5 L151.8,192.1 L152.5,191.3 L153.1,192.2 L153.7,191.6 L154.4,190.7 L155.0,191.1 L155.7,191.8 L156.3,191.4 L157.0,191.4 L157.6,191.0 L158.2,191.0 L158.9,191.1 L159.5,190.3 L160.2,190.3 L160.8,190.2 L161.4,190.4 L162.1,191.0 L162.7,190.2 L163.4,189.1 L164.0,188.3 L164.7,187.8 L165.3,188.1 L165.9,188.2 L166.6,188.0 L167.2,187.8 L167.9,187.8 L168.5,187.1 L169.2,186.4 L169.8,187.1 L170.4,187.7 L171.1,186.8 L171.7,186.8 L172.4,186.6 L173.0,185.8 L173.7,185.1 L174.3,185.4 L174.9,185.9 L175.6,185.8 L176.2,185.9 L176.9,185.3 L177.5,184.9 L178.2,185.2 L178.8,184.9 L179.4,184.2 L180.1,184.1 L180.7,184.3 L181.4,184.5 L182.0,184.7 L182.7,184.2 L183.3,183.8 L183.9,183.4 L184.6,183.0 L185.2,183.2 L185.9,183.5 L186.5,183.5 L187.1,182.5 L187.8,182.4 L188.4,182.6 L189.1,182.1 L189.7,181.7 L190.4,181.4 L191.0,182.5 L191.6,182.8 L192.3,182.0 L192.9,181.4 L193.6,180.5 L194.2,180.8 L194.9,181.0 L195.5,181.3 L196.1,180.9 L196.8,180.7 L197.4,181.6 L198.1,180.9 L198.7,180.6 L199.4,180.5 L200.0,180.2 L200.6,180.6 L201.3,181.1 L201.9,180.6 L202.6,179.9 L203.2,180.5 L203.9,179.9 L204.5,179.4 L205.1,179.5 L205.8,179.1 L206.4,179.6 L207.1,180.1 L207.7,180.7 L208.4,180.9 L209.0,180.3 L209.6,179.6 L210.3,178.9 L210.9,179.0 L211.6,178.1 L212.2,178.6 L212.8,179.1 L213.5,178.0 L214.1,177.9 L214.8,178.6 L215.4,179.2 L216.1,178.6 L216.7,178.2 L217.3,178.2 L218.0,177.6 L218.6,177.6 L219.3,177.9 L219.9,177.1 L220.6,177.5 L221.2,177.4 L221.8,177.0 L222.5,177.1 L223.1,176.7 L223.8,176.8 L224.4,177.3 L225.1,177.0 L225.7,176.6 L226.3,177.7 L227.0,177.5 L227.6,176.9 L228.3,177.4 L228.9,177.1 L229.6,177.1 L230.2,177.0 L230.8,177.1 L231.5,177.4 L232.1,176.8 L232.8,177.4 L233.4,177.7 L234.1,177.1 L234.7,176.8 L235.3,176.7 L236.0,177.1 L236.6,177.4 L237.3,177.9 L237.9,177.4 L238.5,176.8 L239.2,177.9 L239.8,178.1 L240.5,177.8 L241.1,178.4 L241.8,178.5 L242.4,178.1 L243.0,178.0 L243.7,178.5 L244.3,179.0 L245.0,178.1 L245.6,177.9 L246.3,177.8 L246.9,178.1 L247.5,178.8 L248.2,178.4 L248.8,178.0 L249.5,177.5 L250.1,177.9 L250.8,178.6 L251.4,178.3 L252.0,178.6 L252.7,178.6 L253.3,178.1 L254.0,178.1 L254.6,177.9 L255.3,179.1 L255.9,179.6 L256.5,178.6 L257.2,179.1 L257.8,178.1 L258.5,177.8 L259.1,179.0 L259.8,178.7 L260.4,179.0 L261.0,178.6 L261.7,178.5 L262.3,179.7 L263.0,178.9 L263.6,178.0 L264.2,178.9 L264.9,179.5 L265.5,179.4 L266.2,179.6 L266.8,180.0 L267.5,179.5 L268.1,179.4 L268.7,179.5 L269.4,178.8 L270.0,178.5 L270.7,179.8 L271.3,180.8 L272.0,181.3 L272.6,180.9 L273.2,180.1 L273.9,180.9 L274.5,181.1 L275.2,181.3 L275.8,181.5 L276.5,181.2 L277.1,180.4 L277.7,180.4 L278.4,182.1 L279.0,182.9 L279.7,182.8 L280.3,182.4 L281.0,182.0 L281.6,182.0 L282.2,182.3 L282.9,182.8 L283.5,183.0 L284.2,183.8 L284.8,183.4 L285.5,183.2 L286.1,183.1 L286.7,183.4 L287.4,183.9 L288.0,183.6 L288.7,184.0 L289.3,184.8 L289.9,184.9 L290.6,184.2 L291.2,183.9 L291.9,184.3 L292.5,184.6 L293.2,184.5 L293.8,184.9 L294.4,185.5 L295.1,185.4 L295.7,185.5 L296.4,186.6 L297.0,185.9 L297.7,185.8 L298.3,187.4 L298.9,186.7 L299.6,186.2 L300.2,186.0 L300.9,186.0 L301.5,186.5 L302.2,186.5 L302.8,186.4 L303.4,186.1 L304.1,186.3 L304.7,186.5 L305.4,186.5 L306.0,186.8 L306.7,186.6 L307.3,186.8 L307.9,187.5 L308.6,186.7 L309.2,186.7 L309.9,187.3 L310.5,186.9 L311.2,186.7 L311.8,186.9 L312.4,187.2 L313.1,187.7 L313.7,187.6 L314.4,187.9 L315.0,188.1 L315.6,188.0 L316.3,188.8 L316.9,188.1 L317.6,188.1 L318.2,189.4 L318.9,188.9 L319.5,188.3 L320.1,188.4 L320.8,188.2 L321.4,188.2 L322.1,188.0 L322.7,188.3 L323.4,188.9 L324.0,188.6 L324.6,188.8 L325.3,189.3 L325.9,189.0 L326.6,188.3 L327.2,188.7 L327.9,189.5 L328.5,188.0 L329.1,187.0 L329.8,187.7 L330.4,188.5 L331.1,189.1 L331.7,188.7 L332.4,188.3 L333.0,188.7 L333.6,188.1 L334.3,188.0 L334.9,188.4 L335.6,188.2 L336.2,188.3 L336.9,187.8 L337.5,187.5 L338.1,187.9 L338.8,188.4 L339.4,188.2 L340.1,188.6 L340.7,188.6 L341.3,187.7 L342.0,187.7 L342.6,188.1 L343.3,188.2 L343.9,188.7 L344.6,189.0 L345.2,188.9 L345.8,189.0 L346.5,188.5 L347.1,188.6 L347.8,188.6 L348.4,188.3 L349.1,188.0 L349.7,187.9 L350.3,188.2 L351.0,188.3 L351.6,189.1 L352.3,189.9 L352.9,189.6 L353.6,188.6 L354.2,188.6 L354.8,188.6 L355.5,188.1 L356.1,188.0 L356.8,188.1 L357.4,187.9 L358.1,188.5 L358.7,188.5 L359.3,187.8 L360.0,188.3 L360.6,188.2 L361.3,187.4 L361.9,187.4 L362.6,188.0 L363.2,188.5 L363.8,188.4 L364.5,188.1 L365.1,187.6 L365.8,188.1 L366.4,187.9 L367.0,187.5 L367.7,187.5 L368.3,187.4 L369.0,187.9 L369.6,188.5 L370.3,187.5 L370.9,187.5 L371.5,188.3 L372.2,187.9 L372.8,188.5 L373.5,188.1 L374.1,187.8 L374.8,188.3 L375.4,188.3 L376.0,187.8 L376.7,187.9 L377.3,188.3 L378.0,187.6 L378.6,188.1 L379.3,188.8 L379.9,187.3 L380.5,186.9 L381.2,188.5 L381.8,189.5 L382.5,188.9 L383.1,187.6 L383.8,187.4 L384.4,188.5 L385.0,188.8 L385.7,188.2 L386.3,187.8 L387.0,188.3 L387.6,188.5 L388.3,188.3 L388.9,188.6 L389.5,189.1 L390.2,189.0 L390.8,188.4 L391.5,187.7 L392.1,188.0 L392.7,189.1 L393.4,188.7 L394.0,187.4 L394.7,187.2 L395.3,188.1 L396.0,189.2 L396.6,189.4 L397.2,188.9 L397.9,189.0 L398.5,189.3 L399.2,188.6 L399.8,187.7 L400.5,187.8 L401.1,188.0 L401.7,188.4 L402.4,188.6 L403.0,188.4 L403.7,188.4 L404.3,188.5 L405.0,189.4 L405.6,189.5 L406.2,189.8 L406.9,190.7 L407.5,189.3 L408.2,189.1 L408.8,189.8 L409.5,188.9 L410.1,189.0 L410.7,189.6 L411.4,189.6 L412.0,189.3 L412.7,189.2 L413.3,189.8 L414.0,189.8 L414.6,189.4 L415.2,189.5 L415.9,189.4 L416.5,189.6 L417.2,189.1 L417.8,189.6 L418.4,190.6 L419.1,190.3 L419.7,190.6 L420.4,190.0 L421.0,190.6 L421.7,190.7 L422.3,190.0 L422.9,190.6 L423.6,191.0 L424.2,190.9 L424.9,189.8 L425.5,190.0 L426.2,189.6 L426.8,189.4 L427.4,190.3 L428.1,191.0 L428.7,191.1 L429.4,190.3 L430.0,190.2 L430.7,190.0 L431.3,190.2 L431.9,190.8 L432.6,190.5 L433.2,190.2 L433.9,190.2 L434.5,190.2 L435.2,190.9 L435.8,190.5 L436.4,190.2 L437.1,190.8 L437.7,191.3 L438.4,191.7 L439.0,191.4 L439.7,190.6 L440.3,190.1 L440.9,190.8 L441.6,192.0 L442.2,191.9 L442.9,192.0 L443.5,191.7 L444.1,190.9 L444.8,191.8 L445.4,191.5 L446.1,191.2 L446.7,191.8 L447.4,191.6 L448.0,192.2 L448.6,191.8 L449.3,191.0 L449.9,190.5 L450.6,190.3 L451.2,190.9 L451.9,191.2 L452.5,191.4 L453.1,191.7 L453.8,191.5 L454.4,190.6 L455.1,191.0 L455.7,192.0 L456.4,191.5 L457.0,191.0 L457.6,192.2 L458.3,192.9" fill="none" stroke="#4db8ff" stroke-width="2.4" stroke-linejoin="round" stroke-linecap="butt"/>
<path d="M20.1,181.5 L20.7,180.9 L21.4,181.1 L22.0,181.9 L22.7,182.5 L23.3,182.3 L24.0,181.6 L24.6,181.2 L25.2,181.8 L25.9,182.8 L26.5,182.6 L27.2,181.4 L27.8,180.8 L28.5,182.0 L29.1,182.5 L29.7,181.1 L30.4,181.0 L31.0,181.2 L31.7,181.0 L32.3,181.3 L32.9,181.2 L33.6,181.6 L34.2,181.9 L34.9,181.4 L35.5,181.6 L36.2,182.2 L36.8,181.3 L37.4,180.8 L38.1,181.1 L38.7,181.1 L39.4,181.0 L40.0,181.1 L40.7,181.6 L41.3,181.4 L41.9,181.0 L42.6,181.0 L43.2,180.9 L43.9,180.5 L44.5,181.0 L45.2,181.1 L45.8,181.5 L46.4,182.3 L47.1,180.9 L47.7,180.7 L48.4,181.0 L49.0,180.9 L49.7,181.4 L50.3,180.5 L50.9,180.3 L51.6,181.1 L52.2,181.5 L52.9,181.1 L53.5,181.0 L54.2,181.0 L54.8,180.5 L55.4,180.5 L56.1,181.3 L56.7,181.8 L57.4,182.2 L58.0,182.2 L58.6,181.4 L59.3,181.5 L59.9,180.8 L60.6,180.4 L61.2,181.1 L61.9,180.9 L62.5,180.3 L63.1,180.4 L63.8,180.4 L64.4,180.1 L65.1,179.6 L65.7,179.7 L66.4,179.6 L67.0,178.9 L67.6,179.0 L68.3,178.6 L68.9,177.5 L69.6,177.3 L70.2,177.9 L70.9,178.1 L71.5,177.0 L72.1,176.4 L72.8,176.8 L73.4,176.6 L74.1,175.6 L74.7,176.1 L75.4,175.8 L76.0,175.1 L76.6,175.3 L77.3,174.9 L77.9,174.6 L78.6,175.1 L79.2,174.7 L79.9,173.4 L80.5,172.6 L81.1,172.9 L81.8,173.4 L82.4,173.5 L83.1,173.3 L83.7,172.9 L84.3,172.8 L85.0,172.7 L85.6,173.1 L86.3,173.1 L86.9,173.0 L87.6,173.9 L88.2,174.0 L88.8,172.3 L89.5,172.4 L90.1,171.3 L90.8,167.1 L91.4,164.0 L92.1,160.8 L92.7,155.3 L93.3,148.3 L94.0,131.2 L94.6,107.5 L95.3,88.6 L95.9,63.4 L96.6,39.4 L97.2,22.9 L97.8,13.1 L98.5,8.2 L99.1,12.4 L99.8,20.2 L100.4,34.9 L101.1,55.3 L101.7,79.7 L102.3,98.4 L103.0,114.9 L103.6,127.7 L104.3,136.5 L104.9,142.1 L105.6,146.3 L106.2,149.5 L106.8,153.2 L107.5,156.5 L108.1,159.1 L108.8,162.1 L109.4,163.9 L110.0,165.2 L110.7,167.4 L111.3,168.9 L112.0,170.0 L112.6,170.5 L113.3,169.6 L113.9,170.5 L114.5,171.6 L115.2,170.2 L115.8,170.1 L116.5,170.3 L117.1,168.7 L117.8,168.2 L118.4,168.5 L119.0,169.1 L119.7,168.7 L120.3,167.7 L121.0,167.6 L121.6,167.3 L122.3,166.9 L122.9,167.1 L123.5,168.0 L124.2,168.4 L124.8,167.8 L125.5,167.4 L126.1,168.2 L126.8,168.8 L127.4,168.9 L128.0,169.2 L128.7,171.1 L129.3,172.9 L130.0,172.1 L130.6,172.3 L131.3,173.5 L131.9,172.3 L132.5,171.6 L133.2,172.6 L133.8,173.2 L134.5,173.4 L135.1,173.1 L135.7,173.2 L136.4,174.1 L137.0,175.0 L137.7,173.9 L138.3,172.5 L139.0,173.8 L139.6,173.7 L140.2,172.2 L140.9,172.5 L141.5,172.8 L142.2,173.0 L142.8,172.8 L143.5,171.8 L144.1,171.7 L144.7,172.0 L145.4,172.4 L146.0,172.2 L146.7,170.6 L147.3,170.0 L148.0,171.1 L148.6,171.1 L149.2,169.4 L149.9,169.2 L150.5,170.0 L151.2,170.5 L151.8,169.9 L152.5,169.5 L153.1,170.1 L153.7,169.3 L154.4,168.7 L155.0,169.5 L155.7,170.2 L156.3,169.6 L157.0,168.8 L157.6,168.7 L158.2,168.3 L158.9,167.6 L159.5,167.1 L160.2,166.9 L160.8,167.1 L161.4,168.0 L162.1,167.8 L162.7,167.0 L163.4,167.4 L164.0,166.6 L164.7,166.4 L165.3,165.3 L165.9,164.7 L166.6,165.8 L167.2,164.6 L167.9,163.6 L168.5,164.9 L169.2,165.1 L169.8,164.0 L170.4,163.7 L171.1,163.8 L171.7,164.1 L172.4,164.3 L173.0,163.7 L173.7,163.1 L174.3,163.0 L174.9,163.6 L175.6,163.6 L176.2,163.2 L176.9,162.8 L177.5,161.8 L178.2,161.4 L178.8,162.0 L179.4,162.2 L180.1,161.4 L180.7,160.5 L181.4,160.8 L182.0,161.2 L182.7,160.9 L183.3,160.7 L183.9,160.8 L184.6,161.0 L185.2,161.1 L185.9,161.3 L186.5,161.3 L187.1,161.2 L187.8,160.4 L188.4,159.9 L189.1,160.2 L189.7,160.0 L190.4,159.9 L191.0,160.5 L191.6,159.8 L192.3,158.5 L192.9,159.3 L193.6,160.0 L194.2,159.7 L194.9,159.0 L195.5,159.4 L196.1,160.2 L196.8,159.4 L197.4,158.9 L198.1,158.9 L198.7,158.9 L199.4,158.7 L200.0,158.3 L200.6,158.9 L201.3,159.3 L201.9,158.7 L202.6,158.7 L203.2,157.6 L203.9,157.7 L204.5,158.6 L205.1,158.2 L205.8,158.3 L206.4,157.9 L207.1,158.2 L207.7,158.2 L208.4,157.4 L209.0,157.3 L209.6,157.7 L210.3,158.3 L210.9,157.9 L211.6,156.9 L212.2,157.5 L212.8,157.6 L213.5,157.6 L214.1,157.9 L214.8,157.1 L215.4,156.7 L216.1,157.1 L216.7,157.7 L217.3,157.4 L218.0,157.3 L218.6,158.2 L219.3,157.7 L219.9,156.2 L220.6,155.8 L221.2,155.6 L221.8,155.8 L222.5,156.0 L223.1,155.7 L223.8,156.1 L224.4,155.6 L225.1,154.7 L225.7,156.7 L226.3,157.6 L227.0,157.0 L227.6,156.7 L228.3,157.2 L228.9,157.3 L229.6,156.6 L230.2,155.8 L230.8,155.8 L231.5,156.0 L232.1,155.7 L232.8,155.8 L233.4,156.1 L234.1,156.2 L234.7,156.6 L235.3,156.2 L236.0,155.8 L236.6,157.2 L237.3,157.3 L237.9,157.1 L238.5,157.6 L239.2,157.6 L239.8,157.5 L240.5,156.4 L241.1,156.0 L241.8,156.4 L242.4,155.9 L243.0,155.9 L243.7,156.0 L244.3,155.5 L245.0,156.2 L245.6,156.9 L246.3,156.5 L246.9,156.1 L247.5,156.2 L248.2,156.4 L248.8,156.4 L249.5,156.5 L250.1,156.4 L250.8,156.5 L251.4,156.8 L252.0,156.7 L252.7,156.1 L253.3,155.6 L254.0,156.0 L254.6,156.1 L255.3,155.8 L255.9,154.7 L256.5,153.5 L257.2,154.6 L257.8,155.9 L258.5,156.3 L259.1,156.4 L259.8,155.9 L260.4,155.6 L261.0,155.0 L261.7,155.4 L262.3,155.8 L263.0,155.8 L263.6,156.2 L264.2,156.3 L264.9,156.7 L265.5,156.6 L266.2,156.2 L266.8,156.3 L267.5,156.5 L268.1,157.7 L268.7,158.0 L269.4,158.0 L270.0,158.7 L270.7,158.7 L271.3,158.9 L272.0,158.4 L272.6,158.4 L273.2,159.8 L273.9,159.5 L274.5,159.0 L275.2,159.2 L275.8,159.5 L276.5,159.5 L277.1,160.2 L277.7,160.7 L278.4,159.5 L279.0,160.5 L279.7,161.7 L280.3,161.3 L281.0,161.3 L281.6,161.0 L282.2,160.8 L282.9,161.4 L283.5,162.1 L284.2,162.3 L284.8,162.1 L285.5,161.6 L286.1,161.6 L286.7,162.4 L287.4,163.2 L288.0,162.7 L288.7,162.0 L289.3,162.8 L289.9,163.4 L290.6,163.3 L291.2,162.6 L291.9,162.2 L292.5,162.7 L293.2,163.0 L293.8,162.6 L294.4,163.2 L295.1,164.1 L295.7,163.9 L296.4,163.4 L297.0,163.3 L297.7,164.4 L298.3,163.9 L298.9,163.6 L299.6,164.6 L300.2,164.3 L300.9,164.5 L301.5,164.7 L302.2,165.0 L302.8,165.5 L303.4,165.2 L304.1,165.9 L304.7,166.3 L305.4,166.1 L306.0,165.3 L306.7,164.6 L307.3,165.6 L307.9,166.4 L308.6,166.1 L309.2,166.1 L309.9,165.8 L310.5,165.7 L311.2,165.7 L311.8,165.9 L312.4,166.2 L313.1,165.9 L313.7,166.2 L314.4,167.3 L315.0,166.9 L315.6,166.0 L316.3,166.9 L316.9,167.0 L317.6,167.4 L318.2,167.7 L318.9,167.0 L319.5,167.1 L320.1,167.9 L320.8,168.0 L321.4,167.5 L322.1,167.3 L322.7,166.4 L323.4,166.0 L324.0,167.3 L324.6,168.0 L325.3,167.6 L325.9,167.5 L326.6,167.0 L327.2,166.9 L327.9,166.7 L328.5,166.7 L329.1,166.8 L329.8,166.6 L330.4,167.0 L331.1,167.0 L331.7,167.1 L332.4,167.4 L333.0,167.3 L333.6,167.6 L334.3,166.8 L334.9,165.6 L335.6,166.5 L336.2,167.5 L336.9,168.1 L337.5,168.0 L338.1,167.5 L338.8,166.8 L339.4,166.8 L340.1,167.4 L340.7,166.7 L341.3,166.0 L342.0,166.4 L342.6,166.9 L343.3,165.7 L343.9,165.6 L344.6,166.9 L345.2,166.8 L345.8,166.8 L346.5,167.1 L347.1,166.6 L347.8,166.6 L348.4,166.9 L349.1,166.3 L349.7,166.5 L350.3,167.5 L351.0,166.8 L351.6,165.5 L352.3,165.4 L352.9,167.0 L353.6,167.6 L354.2,166.7 L354.8,166.5 L355.5,166.1 L356.1,165.6 L356.8,166.1 L357.4,167.1 L358.1,166.2 L358.7,165.6 L359.3,166.2 L360.0,166.6 L360.6,167.0 L361.3,167.5 L361.9,168.0 L362.6,168.0 L363.2,168.0 L363.8,167.0 L364.5,166.2 L365.1,167.2 L365.8,167.6 L366.4,167.1 L367.0,166.2 L367.7,165.4 L368.3,166.5 L369.0,167.5 L369.6,167.0 L370.3,166.7 L370.9,166.1 L371.5,166.4 L372.2,167.6 L372.8,168.1 L373.5,167.7 L374.1,166.9 L374.8,166.4 L375.4,167.1 L376.0,168.2 L376.7,167.5 L377.3,166.9 L378.0,167.2 L378.6,166.8 L379.3,165.7 L379.9,165.8 L380.5,167.1 L381.2,166.6 L381.8,166.0 L382.5,165.3 L383.1,166.2 L383.8,167.8 L384.4,167.2 L385.0,166.9 L385.7,166.6 L386.3,166.7 L387.0,166.8 L387.6,166.8 L388.3,166.9 L388.9,167.0 L389.5,167.7 L390.2,167.0 L390.8,166.5 L391.5,166.8 L392.1,166.3 L392.7,165.5 L393.4,166.3 L394.0,166.8 L394.7,166.3 L395.3,166.9 L396.0,166.7 L396.6,166.6 L397.2,167.0 L397.9,167.3 L398.5,167.8 L399.2,167.1 L399.8,167.1 L400.5,167.4 L401.1,167.1 L401.7,167.1 L402.4,167.4 L403.0,167.0 L403.7,166.8 L404.3,167.9 L405.0,167.7 L405.6,168.1 L406.2,167.9 L406.9,167.2 L407.5,167.4 L408.2,167.0 L408.8,166.8 L409.5,166.9 L410.1,167.4 L410.7,167.3 L411.4,167.8 L412.0,168.8 L412.7,167.8 L413.3,167.6 L414.0,168.3 L414.6,168.1 L415.2,169.1 L415.9,169.6 L416.5,168.7 L417.2,168.3 L417.8,167.3 L418.4,167.6 L419.1,168.3 L419.7,168.0 L420.4,168.4 L421.0,168.8 L421.7,169.7 L422.3,169.7 L422.9,169.4 L423.6,169.0 L424.2,168.7 L424.9,169.1 L425.5,168.4 L426.2,169.0 L426.8,169.3 L427.4,167.9 L428.1,169.0 L428.7,170.5 L429.4,169.5 L430.0,168.4 L430.7,170.1 L431.3,170.4 L431.9,168.3 L432.6,168.0 L433.2,169.8 L433.9,170.4 L434.5,169.9 L435.2,170.2 L435.8,170.2 L436.4,169.6 L437.1,168.6 L437.7,169.0 L438.4,169.3 L439.0,169.1 L439.7,170.4 L440.3,170.7 L440.9,170.0 L441.6,169.8 L442.2,170.2 L442.9,170.6 L443.5,169.7 L444.1,169.5 L444.8,170.8 L445.4,171.1 L446.1,170.1 L446.7,169.5 L447.4,169.0 L448.0,169.0 L448.6,170.6 L449.3,170.9 L449.9,169.9 L450.6,169.8 L451.2,170.1 L451.9,170.4 L452.5,170.3 L453.1,170.0 L453.8,170.5 L454.4,171.5 L455.1,171.1 L455.7,170.2 L456.4,171.0 L457.0,170.7 L457.6,169.9 L458.3,170.4" fill="none" stroke="#0000ff" stroke-width="2.4" stroke-linejoin="round" stroke-linecap="butt"/>
<path d="M20.4,438.4 L20.9,438.7 L21.5,438.1 L22.1,437.8 L22.6,438.4 L23.2,438.7 L23.7,438.6 L24.3,438.6 L24.8,438.6 L25.4,438.4 L25.9,438.4 L26.5,438.1 L27.0,438.0 L27.6,438.2 L28.1,438.3 L28.7,438.5 L29.2,438.8 L29.8,438.9 L30.3,438.7 L30.9,438.6 L31.4,438.4 L32.0,438.1 L32.5,438.2 L33.1,438.4 L33.6,438.2 L34.2,437.8 L34.7,438.2 L35.3,438.3 L35.8,438.5 L36.4,438.7 L36.9,438.5 L37.5,438.5 L38.0,438.6 L38.6,438.6 L39.1,438.6 L39.7,438.5 L40.2,438.3 L40.8,438.3 L41.3,438.4 L41.9,438.6 L42.4,438.3 L43.0,438.7 L43.5,438.8 L44.1,438.4 L44.6,438.5 L45.2,438.9 L45.7,438.8 L46.3,438.6 L46.8,438.6 L47.4,438.2 L47.9,438.4 L48.5,438.8 L49.0,438.6 L49.6,438.5 L50.1,438.2 L50.7,438.0 L51.2,438.2 L51.8,438.5 L52.3,438.5 L52.9,438.5 L53.4,438.7 L54.0,438.7 L54.5,438.6 L55.1,438.9 L55.6,438.5 L56.2,438.4 L56.7,438.3 L57.3,438.2 L57.8,438.6 L58.4,438.4 L58.9,438.2 L59.5,438.3 L60.0,438.4 L60.6,438.4 L61.1,438.3 L61.7,438.4 L62.2,438.4 L62.8,438.2 L63.3,438.4 L63.9,438.6 L64.4,438.4 L65.0,438.1 L65.5,438.6 L66.1,438.5 L66.6,438.1 L67.2,438.3 L67.7,438.4 L68.3,438.5 L68.8,438.4 L69.4,438.3 L69.9,438.6 L70.5,438.7 L71.0,438.4 L71.6,438.5 L72.1,438.5 L72.7,438.0 L73.2,438.0 L73.8,438.2 L74.3,438.3 L74.9,438.4 L75.4,438.5 L76.0,438.5 L76.5,438.4 L77.1,438.6 L77.6,438.3 L78.2,437.6 L78.7,437.9 L79.3,438.0 L79.8,437.6 L80.4,437.7 L80.9,438.0 L81.5,437.7 L82.0,438.0 L82.6,438.6 L83.1,438.7 L83.7,438.4 L84.2,438.2 L84.8,438.1 L85.3,438.1 L85.9,438.1 L86.4,438.1 L87.0,438.2 L87.5,438.3 L88.1,438.5 L88.6,438.5 L89.2,438.0 L89.7,437.4 L90.3,437.7 L90.8,437.9 L91.4,437.8 L91.9,437.9 L92.5,437.8 L93.0,437.8 L93.6,437.8 L94.1,437.7 L94.7,437.4 L95.2,437.5 L95.8,437.7 L96.3,437.5 L96.9,437.5 L97.4,437.5 L98.0,437.4 L98.5,437.2 L99.1,437.1 L99.6,436.9 L100.2,436.8 L100.7,436.9 L101.3,437.0 L101.8,436.8 L102.4,437.2 L102.9,437.3 L103.5,436.8 L104.0,437.4 L104.6,437.4 L105.1,437.1 L105.7,437.3 L106.2,437.2 L106.8,436.8 L107.3,436.6 L107.9,436.9 L108.4,437.2 L109.0,436.9 L109.5,436.8 L110.1,437.1 L110.6,437.3 L111.2,437.4 L111.7,437.1 L112.3,437.0 L112.8,437.2 L113.4,437.2 L113.9,437.0 L114.5,435.9 L115.0,434.2 L115.6,432.8 L116.1,430.6 L116.7,427.6 L117.2,423.8 L117.8,418.3 L118.3,407.7 L118.9,391.5 L119.4,370.8 L120.0,348.2 L120.5,326.5 L121.1,305.8 L121.6,288.4 L122.2,275.8 L122.7,269.0 L123.3,266.3 L123.8,270.5 L124.4,277.4 L124.9,290.3 L125.5,307.1 L126.0,328.2 L126.6,345.8 L127.1,360.4 L127.7,373.1 L128.2,382.7 L128.8,390.2 L129.3,398.6 L129.9,408.0 L130.4,416.6 L131.0,423.8 L131.5,428.1 L132.1,430.6 L132.6,432.4 L133.2,433.4 L133.7,434.4 L134.3,435.6 L134.8,436.7 L135.4,437.1 L135.9,437.5 L136.5,437.6 L137.0,437.6 L137.6,437.2 L138.1,437.1 L138.7,437.3 L139.2,437.2 L139.8,437.0 L140.3,437.3 L140.9,437.5 L141.4,437.0 L142.0,437.1 L142.5,437.3 L143.1,437.1 L143.6,437.0 L144.2,437.0 L144.7,436.6 L145.3,436.5 L145.8,436.9 L146.4,437.1 L146.9,437.0 L147.5,436.6 L148.0,436.3 L148.6,436.4 L149.1,436.5 L149.7,436.2 L150.2,435.8 L150.8,436.0 L151.3,436.0 L151.9,435.6 L152.4,435.3 L153.0,435.1 L153.5,435.4 L154.1,435.6 L154.6,435.1 L155.2,434.6 L155.7,434.9 L156.3,435.3 L156.8,435.1 L157.4,434.9 L157.9,434.3 L158.5,433.8 L159.0,434.2 L159.6,434.3 L160.1,434.1 L160.7,434.0 L161.2,433.8 L161.8,433.9 L162.3,433.9 L162.9,433.7 L163.4,433.8 L164.0,433.8 L164.5,433.9 L165.1,434.0 L165.6,433.5 L166.2,433.2 L166.7,433.3 L167.3,433.5 L167.8,433.4 L168.4,433.3 L168.9,433.6 L169.5,433.6 L170.0,433.2 L170.6,433.1 L171.1,433.0 L171.7,433.1 L172.2,433.5 L172.8,433.1 L173.3,432.8 L173.9,433.0 L174.4,433.0 L175.0,433.3 L175.5,433.4 L176.1,433.1 L176.6,433.0 L177.2,433.2 L177.7,433.4 L178.3,433.2 L178.8,433.2 L179.4,432.7 L179.9,432.4 L180.5,432.5 L181.0,432.8 L181.6,433.0 L182.1,432.9 L182.7,433.0 L183.2,433.0 L183.8,433.1 L184.3,433.0 L184.9,432.5 L185.4,432.4 L186.0,432.9 L186.5,432.8 L187.1,432.7 L187.6,433.1 L188.2,432.7 L188.7,432.4 L189.3,432.2 L189.8,432.1 L190.4,432.1 L190.9,431.7 L191.5,431.6 L192.0,431.6 L192.6,431.5 L193.1,431.4 L193.7,431.3 L194.2,431.0 L194.8,431.1 L195.3,431.5 L195.9,431.1 L196.4,430.4 L197.0,430.0 L197.5,430.1 L198.1,430.0 L198.6,429.8 L199.2,429.3 L199.7,428.9 L200.3,428.8 L200.8,428.9 L201.4,428.8 L201.9,427.9 L202.5,427.8 L203.0,428.1 L203.6,428.0 L204.1,427.0 L204.7,426.4 L205.2,426.7 L205.8,426.5 L206.3,426.0 L206.9,425.2 L207.4,424.8 L208.0,424.7 L208.5,424.5 L209.1,424.4 L209.6,423.9 L210.2,423.6 L210.7,423.1 L211.3,422.5 L211.8,422.3 L212.4,422.2 L212.9,421.8 L213.5,421.5 L214.0,421.2 L214.6,420.5 L215.1,420.0 L215.7,419.6 L216.2,419.0 L216.8,418.5 L217.3,418.6 L217.9,418.6 L218.4,417.7 L219.0,417.4 L219.5,417.6 L220.1,417.1 L220.6,416.7 L221.2,417.0 L221.7,416.8 L222.3,416.3 L222.8,416.3 L223.4,415.9 L223.9,415.3 L224.5,415.1 L225.0,415.2 L225.6,415.5 L226.1,415.2 L226.7,414.7 L227.2,414.8 L227.8,414.9 L228.3,414.8 L228.9,414.8 L229.4,414.6 L230.0,414.5 L230.5,414.5 L231.1,414.3 L231.6,414.1 L232.2,414.5 L232.7,415.2 L233.3,415.2 L233.8,414.3 L234.4,414.2 L234.9,414.7 L235.5,414.4 L236.0,414.2 L236.6,414.4 L237.1,414.4 L237.7,414.4 L238.2,414.8 L238.8,414.9 L239.3,414.8 L239.9,415.2 L240.4,415.2 L241.0,414.6 L241.5,415.0 L242.1,415.8 L242.6,415.8 L243.2,415.6 L243.7,415.4 L244.3,415.3 L244.8,415.9 L245.4,416.4 L245.9,416.4 L246.5,416.2 L247.0,416.1 L247.6,416.3 L248.1,416.5 L248.7,417.1 L249.2,417.4 L249.8,417.5 L250.3,418.1 L250.9,418.6 L251.4,418.8 L252.0,419.0 L252.5,419.4 L253.1,419.2 L253.6,419.5 L254.2,420.1 L254.7,420.3 L255.3,420.7 L255.8,420.9 L256.4,421.4 L256.9,421.6 L257.5,421.7 L258.0,422.0 L258.6,422.1 L259.1,422.4 L259.7,422.8 L260.2,423.0 L260.8,422.9 L261.3,422.9 L261.9,423.1 L262.4,423.5 L263.0,423.5 L263.5,423.5 L264.1,423.8 L264.6,424.1 L265.2,424.3 L265.7,424.8 L266.3,425.2 L266.8,425.4 L267.4,425.3 L267.9,425.2 L268.5,425.5 L269.0,426.1 L269.6,426.6 L270.1,426.4 L270.7,426.3 L271.2,427.0 L271.8,426.8 L272.3,426.5 L272.9,427.1 L273.4,427.3 L274.0,427.0 L274.5,427.3 L275.1,427.7 L275.6,427.7 L276.2,427.4 L276.7,427.3 L277.3,427.8 L277.8,428.0 L278.4,428.0 L278.9,428.0 L279.5,428.2 L280.0,428.3 L280.6,428.3 L281.1,428.4 L281.7,428.2 L282.2,428.5 L282.8,428.5 L283.3,428.2 L283.9,428.5 L284.4,428.4 L285.0,428.1 L285.5,428.4 L286.1,428.7 L286.6,428.8 L287.2,429.0 L287.7,429.5 L288.3,429.3 L288.8,429.4 L289.4,429.6 L289.9,429.1 L290.5,428.6 L291.0,428.4 L291.6,429.0 L292.1,429.3 L292.7,429.2 L293.2,429.1 L293.8,429.4 L294.3,429.3 L294.9,428.9 L295.4,428.8 L296.0,429.0 L296.5,429.3 L297.1,429.5 L297.6,429.3 L298.2,429.1 L298.7,429.3 L299.3,429.3 L299.8,429.5 L300.4,429.8 L300.9,429.5 L301.5,429.2 L302.0,429.1 L302.6,429.2 L303.1,429.2 L303.7,429.3 L304.2,429.3 L304.8,429.1 L305.3,429.0 L305.9,429.2 L306.4,429.9 L307.0,430.0 L307.5,429.6 L308.1,429.6 L308.6,429.5 L309.2,429.8 L309.7,429.7 L310.3,429.2 L310.8,429.1 L311.4,429.3 L311.9,429.3 L312.5,429.1 L313.0,429.2 L313.6,429.1 L314.1,429.3 L314.7,429.2 L315.2,429.6 L315.8,429.4 L316.3,428.7 L316.9,429.3 L317.4,429.6 L318.0,429.5 L318.5,429.5 L319.1,429.6 L319.6,429.5 L320.2,429.6 L320.7,429.6 L321.3,429.5 L321.8,429.4 L322.4,429.6 L322.9,429.6 L323.5,429.5 L324.0,429.8 L324.6,429.8 L325.1,429.7 L325.7,429.6 L326.2,429.4 L326.8,429.5 L327.3,429.5 L327.9,429.5 L328.4,429.7 L329.0,429.5 L329.5,429.2 L330.1,429.3 L330.6,429.1 L331.2,429.0 L331.7,429.5 L332.3,429.5 L332.8,429.3 L333.4,429.4 L333.9,429.5 L334.5,429.5 L335.0,429.3 L335.6,428.6 L336.1,428.5 L336.7,429.2 L337.2,429.2 L337.8,428.9 L338.3,429.1 L338.9,429.1 L339.4,428.8 L340.0,429.1 L340.5,429.1 L341.1,429.0 L341.6,429.0 L342.2,428.8 L342.7,428.7 L343.3,428.8 L343.8,428.8 L344.4,429.1 L344.9,429.2 L345.5,428.9 L346.0,428.6 L346.6,428.7 L347.1,429.2 L347.7,429.2 L348.2,429.1 L348.8,429.2 L349.3,429.0 L349.9,428.8 L350.4,429.0 L351.0,428.8 L351.5,428.9 L352.1,429.0 L352.6,429.0 L353.2,429.2 L353.7,429.0 L354.3,429.3 L354.8,429.1 L355.4,429.0 L355.9,429.1 L356.5,429.2 L357.0,429.4 L357.6,429.4 L358.1,429.3 L358.7,429.2 L359.2,429.3 L359.8,429.4 L360.3,429.3 L360.9,429.4 L361.4,429.2 L362.0,428.9 L362.5,429.2 L363.1,429.5 L363.6,429.7 L364.2,429.3 L364.7,429.1 L365.3,429.7 L365.8,429.7 L366.4,429.7 L366.9,429.7 L367.5,429.6 L368.0,429.8 L368.6,429.6 L369.1,429.0 L369.7,429.4 L370.2,429.8 L370.8,429.8 L371.3,429.8 L371.9,429.9 L372.4,429.8 L373.0,429.8 L373.5,430.0 L374.1,429.7 L374.6,429.7 L375.2,430.0 L375.7,429.9 L376.3,430.1 L376.8,430.2 L377.4,430.2 L377.9,430.5 L378.5,430.2 L379.0,429.7 L379.6,430.1 L380.1,430.3 L380.7,430.4 L381.2,430.7 L381.8,430.6 L382.3,430.5 L382.9,430.6 L383.4,430.3 L384.0,430.5 L384.5,430.7 L385.1,430.8 L385.6,430.9 L386.2,430.9 L386.7,430.9 L387.3,430.5 L387.8,430.4 L388.4,430.7 L388.9,430.9 L389.5,430.8 L390.0,430.7 L390.6,430.8 L391.1,430.5 L391.7,430.6 L392.2,431.0 L392.8,431.0 L393.3,431.1 L393.9,431.2 L394.4,431.1 L395.0,431.0 L395.5,430.9 L396.1,431.1 L396.6,431.1 L397.2,430.8 L397.7,430.8 L398.3,431.1 L398.8,431.3 L399.4,431.4 L399.9,431.0 L400.5,431.0 L401.0,430.9 L401.6,430.7 L402.1,430.8 L402.7,431.2 L403.2,431.5 L403.8,431.3 L404.3,431.1 L404.9,431.2 L405.4,431.3 L406.0,431.2 L406.5,431.4 L407.1,431.3 L407.6,431.2 L408.2,430.9 L408.7,430.9 L409.3,431.0 L409.8,430.9 L410.4,431.3 L410.9,431.3 L411.5,431.7 L412.0,431.1 L412.6,430.8 L413.1,431.2 L413.7,431.3 L414.2,431.4 L414.8,431.3 L415.3,431.1 L415.9,431.0 L416.4,431.1 L417.0,431.0 L417.5,431.1 L418.1,431.3 L418.6,431.2 L419.2,431.1 L419.7,431.1 L420.3,431.2 L420.8,431.3 L421.4,431.6 L421.9,431.3 L422.5,431.1 L423.0,431.3 L423.6,431.5 L424.1,431.2 L424.7,431.1 L425.2,431.3 L425.8,431.0 L426.3,430.9 L426.9,431.0 L427.4,431.3 L428.0,431.2 L428.5,431.2 L429.1,431.3 L429.6,431.3 L430.2,431.0 L430.7,430.8 L431.3,431.1 L431.8,431.1 L432.4,430.8 L432.9,430.9 L433.5,431.4 L434.0,431.4 L434.6,431.2 L435.1,431.2 L435.7,431.2 L436.2,431.3 L436.8,431.6 L437.3,431.2 L437.9,431.2 L438.4,431.5 L439.0,431.4 L439.5,431.4 L440.1,431.6 L440.6,431.8 L441.2,431.8 L441.7,431.5 L442.3,431.4 L442.8,431.2 L443.4,431.1 L443.9,431.5 L444.5,431.5 L445.0,431.2 L445.6,431.3 L446.1,431.7 L446.7,431.5 L447.2,431.0 L447.8,431.0 L448.3,431.1 L448.9,430.8 L449.4,430.8 L450.0,431.5 L450.5,431.4 L451.1,430.9 L451.6,431.2 L452.2,431.4 L452.7,431.2 L453.3,430.9 L453.8,431.2 L454.4,431.4 L454.9,431.5 L455.5,431.2 L456.0,431.0 L456.6,431.3 L457.1,431.4 L457.7,431.0" fill="none" stroke="#808080" stroke-width="2.5" stroke-linejoin="round" stroke-linecap="butt"/>
</g>
<g clip-path="url(#clipB)">
<path d="M481.4,267.1 L482.3,267.8 L483.1,267.7 L484.0,266.8 L484.9,266.9 L485.8,266.8 L486.6,267.3 L487.5,267.0 L488.4,267.4 L489.3,266.1 L490.1,267.8 L491.0,266.9 L491.9,267.3 L492.8,266.9 L493.6,266.8 L494.5,267.2 L495.4,267.3 L496.3,266.8 L497.1,266.8 L498.0,267.2 L498.9,266.4 L499.8,266.1 L500.6,267.0 L501.5,266.5 L502.4,265.8 L503.3,266.4 L504.1,266.5 L505.0,266.2 L505.9,266.0 L506.7,266.8 L507.6,267.2 L508.5,266.6 L509.4,266.3 L510.2,266.9 L511.1,267.0 L512.0,266.5 L512.9,266.9 L513.7,267.1 L514.6,266.5 L515.5,266.2 L516.4,266.7 L517.2,266.7 L518.1,267.1 L519.0,265.9 L519.9,266.2 L520.7,266.1 L521.6,265.6 L522.5,266.5 L523.4,266.7 L524.2,266.0 L525.1,267.1 L526.0,266.8 L526.8,266.7 L527.7,266.5 L528.6,266.8 L529.5,265.6 L530.3,266.5 L531.2,266.5 L532.1,265.3 L533.0,266.3 L533.8,266.0 L534.7,266.4 L535.6,265.8 L536.5,266.0 L537.3,266.1 L538.2,265.4 L539.1,266.1 L540.0,265.7 L540.8,266.0 L541.7,265.4 L542.6,266.2 L543.5,265.9 L544.3,265.5 L545.2,265.8 L546.1,266.1 L547.0,266.3 L547.8,264.6 L548.7,265.8 L549.6,265.5 L550.4,265.2 L551.3,264.7 L552.2,265.8 L553.1,264.5 L553.9,265.4 L554.8,265.7 L555.7,264.2 L556.6,264.8 L557.4,264.3 L558.3,265.1 L559.2,265.7 L560.1,265.9 L560.9,263.9 L561.8,264.5 L562.7,265.1 L563.6,265.5 L564.4,264.9 L565.3,264.2 L566.2,264.7 L567.1,264.4 L567.9,264.2 L568.8,263.7 L569.7,264.1 L570.5,263.7 L571.4,263.2 L572.3,262.8 L573.2,261.9 L574.0,261.9 L574.9,262.1 L575.8,260.6 L576.7,259.1 L577.5,259.8 L578.4,258.6 L579.3,258.8 L580.2,257.1 L581.0,256.2 L581.9,255.0 L582.8,255.9 L583.7,255.9 L584.5,253.3 L585.4,252.5 L586.3,252.3 L587.2,250.5 L588.0,249.8 L588.9,248.5 L589.8,247.5 L590.7,246.6 L591.5,244.3 L592.4,243.0 L593.3,239.5 L594.1,236.9 L595.0,231.9 L595.9,228.8 L596.8,226.7 L597.6,221.6 L598.5,218.2 L599.4,213.7 L600.3,209.5 L601.1,203.9 L602.0,198.7 L602.9,192.4 L603.8,186.7 L604.6,181.3 L605.5,177.0 L606.4,173.3 L607.3,171.4 L608.1,170.5 L609.0,171.2 L609.9,171.8 L610.8,171.8 L611.6,175.7 L612.5,178.9 L613.4,182.7 L614.2,184.9 L615.1,185.6 L616.0,187.3 L616.9,191.3 L617.7,191.1 L618.6,192.3 L619.5,192.3 L620.4,189.2 L621.2,189.8 L622.1,189.3 L623.0,188.6 L623.9,187.4 L624.7,185.7 L625.6,184.0 L626.5,180.4 L627.4,179.7 L628.2,176.3 L629.1,174.1 L630.0,170.1 L630.9,168.0 L631.7,165.6 L632.6,162.7 L633.5,160.0 L634.4,156.5 L635.2,152.6 L636.1,149.8 L637.0,146.4 L637.8,145.2 L638.7,142.9 L639.6,142.0 L640.5,138.3 L641.3,139.7 L642.2,136.5 L643.1,135.5 L644.0,135.1 L644.8,133.5 L645.7,133.5 L646.6,131.4 L647.5,130.0 L648.3,129.8 L649.2,132.5 L650.1,131.0 L651.0,129.8 L651.8,131.6 L652.7,130.0 L653.6,134.6 L654.5,130.8 L655.3,133.5 L656.2,133.9 L657.1,131.7 L657.9,134.2 L658.8,135.4 L659.7,135.1 L660.6,135.2 L661.4,136.4 L662.3,135.9 L663.2,136.5 L664.1,136.4 L664.9,137.8 L665.8,136.4 L666.7,139.0 L667.6,138.0 L668.4,137.9 L669.3,140.2 L670.2,142.3 L671.1,142.1 L671.9,141.0 L672.8,143.2 L673.7,142.5 L674.6,143.6 L675.4,144.5 L676.3,142.2 L677.2,145.6 L678.1,144.6 L678.9,145.4 L679.8,144.8 L680.7,145.1 L681.5,146.1 L682.4,148.5 L683.3,149.8 L684.2,148.2 L685.0,149.8 L685.9,148.6 L686.8,147.0 L687.7,149.7 L688.5,150.4 L689.4,149.7 L690.3,150.9 L691.2,151.5 L692.0,150.1 L692.9,149.7 L693.8,151.5 L694.7,151.8 L695.5,152.0 L696.4,153.9 L697.3,155.1 L698.2,153.2 L699.0,154.9 L699.9,155.7 L700.8,156.0 L701.6,156.8 L702.5,155.7 L703.4,157.5 L704.3,159.4 L705.1,158.5 L706.0,157.4 L706.9,159.2 L707.8,160.4 L708.6,159.9 L709.5,159.4 L710.4,162.1 L711.3,159.5 L712.1,161.8 L713.0,161.7 L713.9,160.8 L714.8,163.7 L715.6,163.1 L716.5,161.8 L717.4,164.0 L718.3,163.2 L719.1,161.9 L720.0,163.5 L720.9,164.8 L721.8,165.4 L722.6,165.2 L723.5,165.4 L724.4,166.2 L725.2,165.8 L726.1,167.6 L727.0,166.8 L727.9,167.3 L728.7,167.9 L729.6,166.6 L730.5,167.3 L731.4,170.0 L732.2,169.2 L733.1,168.9 L734.0,170.0 L734.9,169.6 L735.7,171.0 L736.6,170.6 L737.5,172.2 L738.4,171.0 L739.2,174.7 L740.1,173.5 L741.0,173.0 L741.9,175.0 L742.7,175.4 L743.6,176.3 L744.5,175.4 L745.3,177.3 L746.2,180.8 L747.1,176.2 L748.0,178.1 L748.8,177.7 L749.7,178.4 L750.6,176.7 L751.5,177.5 L752.3,179.3 L753.2,179.0 L754.1,180.8 L755.0,178.7 L755.8,179.7 L756.7,182.6 L757.6,179.1 L758.5,179.1 L759.3,180.2 L760.2,180.3 L761.1,181.3 L762.0,180.7 L762.8,179.9 L763.7,180.9 L764.6,183.3 L765.5,181.9 L766.3,177.8 L767.2,180.1 L768.1,179.2 L768.9,180.3 L769.8,179.2 L770.7,181.0 L771.6,179.6 L772.4,179.3 L773.3,178.3 L774.2,177.7 L775.1,177.9 L775.9,178.6 L776.8,177.7 L777.7,176.7 L778.6,178.2 L779.4,177.0 L780.3,176.7 L781.2,175.9 L782.1,176.0 L782.9,175.8 L783.8,173.6 L784.7,177.3 L785.6,176.8 L786.4,176.0 L787.3,177.2 L788.2,176.5 L789.0,176.4 L789.9,173.5 L790.8,175.6 L791.7,176.4 L792.5,177.4 L793.4,177.6 L794.3,177.1 L795.2,174.5 L796.0,173.4 L796.9,176.1 L797.8,175.6 L798.7,176.5 L799.5,175.3 L800.4,175.6 L801.3,173.9 L802.2,175.8 L803.0,174.9 L803.9,175.6 L804.8,175.7 L805.7,175.1 L806.5,175.5 L807.4,175.2 L808.3,176.0 L809.2,175.7 L810.0,174.7 L810.9,174.7 L811.8,177.1 L812.6,175.3 L813.5,176.5 L814.4,176.0 L815.3,175.2 L816.1,175.1 L817.0,176.2 L817.9,176.5 L818.8,177.0 L819.6,175.2 L820.5,176.1 L821.4,176.7 L822.3,178.5 L823.1,174.7 L824.0,177.6 L824.9,176.7 L825.8,177.8 L826.6,177.0 L827.5,177.9 L828.4,179.2 L829.3,178.1 L830.1,178.3 L831.0,178.3 L831.9,177.3 L832.7,178.7 L833.6,178.0 L834.5,177.5 L835.4,178.4 L836.2,178.3 L837.1,179.3 L838.0,178.6 L838.9,178.2 L839.7,180.2 L840.6,179.8 L841.5,180.1 L842.4,179.5 L843.2,178.8 L844.1,178.5 L845.0,178.6 L845.9,179.8 L846.7,179.0 L847.6,177.4 L848.5,178.8 L849.4,177.4 L850.2,179.0 L851.1,177.6 L852.0,177.5 L852.9,178.9 L853.7,178.6 L854.6,177.0 L855.5,179.4 L856.3,180.7 L857.2,177.1 L858.1,180.3 L859.0,177.8 L859.8,177.9 L860.7,178.2 L861.6,176.9 L862.5,179.6 L863.3,178.7 L864.2,177.5 L865.1,177.9 L866.0,176.6 L866.8,177.7 L867.7,178.9 L868.6,176.2 L869.5,177.4 L870.3,177.9 L871.2,178.7 L872.1,178.9 L873.0,177.0 L873.8,176.6 L874.7,177.7 L875.6,176.8 L876.4,176.7 L877.3,178.0 L878.2,178.5 L879.1,177.0 L879.9,176.4 L880.8,177.1 L881.7,174.5 L882.6,176.3 L883.4,175.2 L884.3,178.6 L885.2,176.8 L886.1,176.1 L886.9,175.7 L887.8,173.3 L888.7,176.5 L889.6,177.3 L890.4,174.8 L891.3,176.2 L892.2,176.1 L893.1,173.8 L893.9,176.2 L894.8,176.5 L895.7,175.3 L896.6,174.9 L897.4,175.7 L898.3,173.3 L899.2,174.8 L900.0,175.7 L900.9,173.3 L901.8,175.5 L902.7,174.0 L903.5,172.2 L904.4,174.1 L905.3,173.1 L906.2,174.4 L907.0,172.8 L907.9,174.9 L908.8,173.0 L909.7,174.0 L910.5,173.0 L911.4,173.2 L912.3,174.6 L913.2,173.5 L914.0,172.8 L914.9,171.9 L915.8,174.2 L916.7,173.7 L917.5,172.5 L918.4,173.0 L919.3,171.7" fill="none" stroke="#000000" stroke-width="2.5" stroke-linejoin="round" stroke-linecap="butt"/>
<path d="M481.4,246.5 L482.3,247.2 L483.1,246.9 L484.0,246.9 L484.9,247.5 L485.8,245.5 L486.6,245.9 L487.5,245.4 L488.4,246.2 L489.3,247.0 L490.1,246.2 L491.0,246.6 L491.9,244.9 L492.8,246.3 L493.6,245.5 L494.5,247.4 L495.4,246.7 L496.3,246.8 L497.1,246.1 L498.0,246.5 L498.9,246.5 L499.8,245.8 L500.6,245.7 L501.5,245.9 L502.4,245.6 L503.3,245.6 L504.1,245.8 L505.0,245.5 L505.9,246.5 L506.7,244.9 L507.6,246.5 L508.5,245.5 L509.4,245.6 L510.2,245.0 L511.1,245.8 L512.0,245.8 L512.9,246.0 L513.7,245.5 L514.6,246.0 L515.5,247.2 L516.4,246.2 L517.2,245.5 L518.1,246.5 L519.0,245.8 L519.9,246.3 L520.7,246.3 L521.6,245.6 L522.5,244.5 L523.4,245.6 L524.2,246.2 L525.1,245.6 L526.0,246.1 L526.8,246.5 L527.7,245.4 L528.6,246.6 L529.5,246.9 L530.3,246.5 L531.2,246.6 L532.1,246.5 L533.0,247.3 L533.8,245.9 L534.7,245.7 L535.6,246.1 L536.5,245.1 L537.3,244.6 L538.2,245.1 L539.1,245.9 L540.0,246.0 L540.8,244.6 L541.7,244.3 L542.6,245.4 L543.5,245.4 L544.3,245.5 L545.2,246.0 L546.1,246.3 L547.0,245.6 L547.8,245.9 L548.7,244.7 L549.6,244.6 L550.4,245.5 L551.3,245.8 L552.2,245.8 L553.1,245.7 L553.9,245.8 L554.8,245.8 L555.7,244.0 L556.6,244.7 L557.4,245.4 L558.3,245.5 L559.2,244.0 L560.1,245.8 L560.9,244.6 L561.8,244.7 L562.7,245.0 L563.6,245.2 L564.4,243.6 L565.3,245.2 L566.2,244.5 L567.1,243.8 L567.9,243.9 L568.8,242.4 L569.7,243.2 L570.5,243.5 L571.4,242.5 L572.3,242.5 L573.2,242.2 L574.0,241.9 L574.9,241.9 L575.8,240.4 L576.7,239.3 L577.5,238.9 L578.4,239.0 L579.3,236.0 L580.2,235.2 L581.0,232.0 L581.9,232.7 L582.8,230.4 L583.7,229.1 L584.5,226.0 L585.4,223.0 L586.3,222.5 L587.2,220.1 L588.0,216.3 L588.9,213.5 L589.8,213.0 L590.7,210.2 L591.5,210.6 L592.4,204.9 L593.3,202.3 L594.1,199.7 L595.0,194.8 L595.9,192.2 L596.8,191.3 L597.6,185.5 L598.5,180.9 L599.4,175.6 L600.3,173.1 L601.1,168.3 L602.0,162.7 L602.9,156.9 L603.8,152.9 L604.6,147.8 L605.5,141.0 L606.4,138.4 L607.3,130.9 L608.1,129.0 L609.0,128.4 L609.9,128.4 L610.8,127.8 L611.6,131.8 L612.5,137.2 L613.4,141.0 L614.2,144.3 L615.1,148.5 L616.0,150.9 L616.9,151.1 L617.7,154.3 L618.6,158.2 L619.5,156.3 L620.4,158.8 L621.2,158.2 L622.1,157.1 L623.0,156.2 L623.9,156.8 L624.7,156.2 L625.6,155.0 L626.5,151.2 L627.4,151.3 L628.2,150.6 L629.1,149.7 L630.0,147.4 L630.9,145.7 L631.7,144.1 L632.6,141.7 L633.5,137.2 L634.4,136.6 L635.2,133.7 L636.1,129.7 L637.0,129.2 L637.8,133.2 L638.7,125.3 L639.6,120.2 L640.5,120.1 L641.3,121.6 L642.2,117.4 L643.1,116.8 L644.0,114.7 L644.8,114.1 L645.7,115.8 L646.6,114.6 L647.5,112.9 L648.3,114.4 L649.2,114.5 L650.1,112.2 L651.0,112.9 L651.8,112.7 L652.7,110.9 L653.6,113.7 L654.5,111.1 L655.3,109.9 L656.2,107.8 L657.1,108.3 L657.9,112.9 L658.8,108.4 L659.7,111.1 L660.6,109.9 L661.4,111.5 L662.3,111.9 L663.2,109.8 L664.1,110.9 L664.9,111.9 L665.8,112.8 L666.7,113.8 L667.6,114.8 L668.4,117.7 L669.3,119.9 L670.2,119.6 L671.1,118.4 L671.9,121.0 L672.8,121.0 L673.7,121.7 L674.6,123.9 L675.4,120.4 L676.3,120.6 L677.2,119.1 L678.1,120.0 L678.9,119.7 L679.8,123.4 L680.7,121.6 L681.5,120.5 L682.4,124.9 L683.3,120.0 L684.2,123.9 L685.0,124.5 L685.9,124.1 L686.8,123.2 L687.7,123.8 L688.5,123.8 L689.4,126.1 L690.3,121.5 L691.2,124.7 L692.0,126.1 L692.9,125.2 L693.8,123.5 L694.7,126.3 L695.5,125.7 L696.4,128.4 L697.3,129.6 L698.2,127.8 L699.0,125.0 L699.9,128.1 L700.8,127.7 L701.6,131.4 L702.5,134.3 L703.4,133.4 L704.3,137.0 L705.1,136.9 L706.0,136.3 L706.9,134.6 L707.8,136.7 L708.6,134.9 L709.5,139.2 L710.4,138.3 L711.3,140.7 L712.1,139.6 L713.0,136.8 L713.9,141.2 L714.8,142.2 L715.6,143.8 L716.5,140.5 L717.4,141.1 L718.3,143.1 L719.1,142.0 L720.0,142.1 L720.9,143.0 L721.8,148.9 L722.6,144.8 L723.5,144.7 L724.4,146.1 L725.2,147.3 L726.1,149.7 L727.0,149.8 L727.9,150.1 L728.7,149.7 L729.6,150.4 L730.5,149.8 L731.4,149.1 L732.2,154.6 L733.1,151.6 L734.0,154.1 L734.9,152.6 L735.7,153.4 L736.6,153.6 L737.5,152.3 L738.4,154.4 L739.2,155.4 L740.1,156.3 L741.0,156.2 L741.9,157.2 L742.7,156.5 L743.6,156.4 L744.5,154.0 L745.3,156.2 L746.2,159.3 L747.1,157.7 L748.0,158.9 L748.8,157.8 L749.7,157.5 L750.6,161.4 L751.5,159.4 L752.3,161.2 L753.2,160.1 L754.1,159.1 L755.0,156.6 L755.8,159.8 L756.7,157.6 L757.6,156.7 L758.5,161.2 L759.3,160.4 L760.2,160.0 L761.1,159.0 L762.0,158.6 L762.8,158.9 L763.7,158.2 L764.6,157.8 L765.5,158.4 L766.3,153.8 L767.2,158.1 L768.1,155.8 L768.9,157.7 L769.8,158.0 L770.7,155.2 L771.6,157.3 L772.4,157.2 L773.3,155.0 L774.2,155.2 L775.1,156.0 L775.9,152.7 L776.8,155.1 L777.7,155.9 L778.6,154.9 L779.4,153.3 L780.3,154.9 L781.2,157.4 L782.1,157.1 L782.9,155.1 L783.8,154.0 L784.7,155.0 L785.6,155.0 L786.4,154.0 L787.3,154.4 L788.2,155.6 L789.0,156.0 L789.9,151.3 L790.8,155.9 L791.7,154.7 L792.5,156.0 L793.4,154.3 L794.3,154.9 L795.2,156.5 L796.0,150.0 L796.9,156.3 L797.8,154.3 L798.7,151.4 L799.5,150.2 L800.4,154.2 L801.3,152.3 L802.2,155.1 L803.0,153.9 L803.9,153.3 L804.8,154.8 L805.7,153.6 L806.5,154.3 L807.4,154.4 L808.3,153.6 L809.2,154.2 L810.0,154.1 L810.9,151.0 L811.8,152.5 L812.6,152.7 L813.5,152.3 L814.4,150.5 L815.3,151.9 L816.1,153.1 L817.0,152.9 L817.9,154.7 L818.8,151.8 L819.6,152.0 L820.5,151.8 L821.4,152.3 L822.3,152.0 L823.1,150.3 L824.0,153.6 L824.9,154.6 L825.8,155.0 L826.6,152.1 L827.5,153.5 L828.4,156.6 L829.3,154.1 L830.1,154.9 L831.0,154.4 L831.9,156.1 L832.7,156.2 L833.6,158.2 L834.5,155.8 L835.4,155.8 L836.2,153.6 L837.1,154.8 L838.0,154.5 L838.9,155.1 L839.7,153.9 L840.6,157.4 L841.5,154.4 L842.4,156.3 L843.2,154.3 L844.1,156.5 L845.0,158.4 L845.9,155.1 L846.7,156.7 L847.6,156.2 L848.5,156.7 L849.4,156.9 L850.2,155.5 L851.1,156.2 L852.0,155.6 L852.9,155.3 L853.7,154.7 L854.6,157.7 L855.5,155.3 L856.3,157.2 L857.2,157.0 L858.1,154.9 L859.0,157.6 L859.8,155.0 L860.7,157.0 L861.6,158.1 L862.5,155.0 L863.3,154.7 L864.2,154.6 L865.1,159.0 L866.0,155.3 L866.8,154.0 L867.7,156.8 L868.6,155.4 L869.5,155.5 L870.3,154.2 L871.2,152.4 L872.1,154.4 L873.0,153.9 L873.8,153.0 L874.7,153.7 L875.6,153.8 L876.4,156.1 L877.3,155.9 L878.2,155.6 L879.1,154.0 L879.9,153.0 L880.8,155.0 L881.7,155.2 L882.6,155.8 L883.4,154.3 L884.3,154.1 L885.2,154.6 L886.1,152.8 L886.9,152.9 L887.8,154.9 L888.7,152.2 L889.6,153.8 L890.4,154.9 L891.3,154.1 L892.2,154.3 L893.1,152.2 L893.9,153.5 L894.8,153.3 L895.7,154.4 L896.6,154.1 L897.4,153.6 L898.3,156.1 L899.2,154.2 L900.0,153.0 L900.9,152.6 L901.8,153.3 L902.7,152.5 L903.5,155.6 L904.4,154.1 L905.3,152.8 L906.2,152.3 L907.0,151.6 L907.9,152.7 L908.8,154.8 L909.7,154.1 L910.5,152.8 L911.4,153.0 L912.3,150.2 L913.2,153.7 L914.0,152.3 L914.9,154.4 L915.8,152.2 L916.7,151.7 L917.5,152.6 L918.4,151.3 L919.3,154.0" fill="none" stroke="#800000" stroke-width="2.5" stroke-linejoin="round" stroke-linecap="butt"/>
<path d="M481.4,225.8 L482.3,222.3 L483.1,225.2 L484.0,224.6 L484.9,225.5 L485.8,224.8 L486.6,225.9 L487.5,224.6 L488.4,224.2 L489.3,225.0 L490.1,224.9 L491.0,224.4 L491.9,224.5 L492.8,225.2 L493.6,225.2 L494.5,224.3 L495.4,224.4 L496.3,223.4 L497.1,225.9 L498.0,224.5 L498.9,225.6 L499.8,225.0 L500.6,226.1 L501.5,225.8 L502.4,224.9 L503.3,225.8 L504.1,224.0 L505.0,225.6 L505.9,223.6 L506.7,224.9 L507.6,225.4 L508.5,224.8 L509.4,224.4 L510.2,224.1 L511.1,224.4 L512.0,225.4 L512.9,225.3 L513.7,224.5 L514.6,223.8 L515.5,225.1 L516.4,223.6 L517.2,224.3 L518.1,224.1 L519.0,225.1 L519.9,224.8 L520.7,224.9 L521.6,224.8 L522.5,224.1 L523.4,224.9 L524.2,225.6 L525.1,224.5 L526.0,225.0 L526.8,224.4 L527.7,225.2 L528.6,225.0 L529.5,225.1 L530.3,224.7 L531.2,225.6 L532.1,224.2 L533.0,224.2 L533.8,223.9 L534.7,224.8 L535.6,223.9 L536.5,223.8 L537.3,224.7 L538.2,225.0 L539.1,224.5 L540.0,222.2 L540.8,223.4 L541.7,223.2 L542.6,223.1 L543.5,223.6 L544.3,225.1 L545.2,223.6 L546.1,223.2 L547.0,224.2 L547.8,223.7 L548.7,223.6 L549.6,223.0 L550.4,223.4 L551.3,223.7 L552.2,221.9 L553.1,222.1 L553.9,223.9 L554.8,223.7 L555.7,222.6 L556.6,222.2 L557.4,222.7 L558.3,221.8 L559.2,222.3 L560.1,223.7 L560.9,222.4 L561.8,223.0 L562.7,221.9 L563.6,222.2 L564.4,222.8 L565.3,220.6 L566.2,221.1 L567.1,221.1 L567.9,221.2 L568.8,221.9 L569.7,221.0 L570.5,219.1 L571.4,219.6 L572.3,218.8 L573.2,218.3 L574.0,220.0 L574.9,216.8 L575.8,216.8 L576.7,215.1 L577.5,215.3 L578.4,214.0 L579.3,212.9 L580.2,212.0 L581.0,212.1 L581.9,209.6 L582.8,208.8 L583.7,207.4 L584.5,208.4 L585.4,205.9 L586.3,204.0 L587.2,203.1 L588.0,204.1 L588.9,200.1 L589.8,199.0 L590.7,196.5 L591.5,193.6 L592.4,190.2 L593.3,187.4 L594.1,183.4 L595.0,176.5 L595.9,176.0 L596.8,168.4 L597.6,161.8 L598.5,155.9 L599.4,149.5 L600.3,145.8 L601.1,138.2 L602.0,132.8 L602.9,123.6 L603.8,119.3 L604.6,114.8 L605.5,104.2 L606.4,98.1 L607.3,89.6 L608.1,86.1 L609.0,81.8 L609.9,79.7 L610.8,83.7 L611.6,92.4 L612.5,98.4 L613.4,104.2 L614.2,112.9 L615.1,119.3 L616.0,123.9 L616.9,130.6 L617.7,139.1 L618.6,139.8 L619.5,141.6 L620.4,147.0 L621.2,144.8 L622.1,143.6 L623.0,144.9 L623.9,145.1 L624.7,146.9 L625.6,147.2 L626.5,142.4 L627.4,145.7 L628.2,141.6 L629.1,142.0 L630.0,140.7 L630.9,139.3 L631.7,137.5 L632.6,136.4 L633.5,133.1 L634.4,133.4 L635.2,132.4 L636.1,129.7 L637.0,128.4 L637.8,122.8 L638.7,119.5 L639.6,118.3 L640.5,113.7 L641.3,109.2 L642.2,105.9 L643.1,109.8 L644.0,107.3 L644.8,106.4 L645.7,103.4 L646.6,103.5 L647.5,105.1 L648.3,101.8 L649.2,98.8 L650.1,99.3 L651.0,101.7 L651.8,97.1 L652.7,94.2 L653.6,94.2 L654.5,95.3 L655.3,98.3 L656.2,96.6 L657.1,94.8 L657.9,93.5 L658.8,95.1 L659.7,94.8 L660.6,94.1 L661.4,94.6 L662.3,93.8 L663.2,98.2 L664.1,91.4 L664.9,95.6 L665.8,93.8 L666.7,96.7 L667.6,95.1 L668.4,96.1 L669.3,96.3 L670.2,95.7 L671.1,96.9 L671.9,92.9 L672.8,96.7 L673.7,94.7 L674.6,95.7 L675.4,97.6 L676.3,96.9 L677.2,98.4 L678.1,91.4 L678.9,93.7 L679.8,97.1 L680.7,93.8 L681.5,95.6 L682.4,99.0 L683.3,97.8 L684.2,95.0 L685.0,97.6 L685.9,98.2 L686.8,97.6 L687.7,97.7 L688.5,98.5 L689.4,96.2 L690.3,99.3 L691.2,97.9 L692.0,100.5 L692.9,101.0 L693.8,99.2 L694.7,101.9 L695.5,101.9 L696.4,101.6 L697.3,103.2 L698.2,102.0 L699.0,102.5 L699.9,103.7 L700.8,104.2 L701.6,107.2 L702.5,102.8 L703.4,107.2 L704.3,105.4 L705.1,108.6 L706.0,110.5 L706.9,110.9 L707.8,113.0 L708.6,112.7 L709.5,108.7 L710.4,111.8 L711.3,116.6 L712.1,117.2 L713.0,115.6 L713.9,113.8 L714.8,120.1 L715.6,114.3 L716.5,118.6 L717.4,118.7 L718.3,119.8 L719.1,118.3 L720.0,120.1 L720.9,122.9 L721.8,121.2 L722.6,120.6 L723.5,123.2 L724.4,124.0 L725.2,124.4 L726.1,124.1 L727.0,126.7 L727.9,126.5 L728.7,125.7 L729.6,128.4 L730.5,128.7 L731.4,129.6 L732.2,127.6 L733.1,129.5 L734.0,131.8 L734.9,132.9 L735.7,132.6 L736.6,132.9 L737.5,134.2 L738.4,135.0 L739.2,136.5 L740.1,135.2 L741.0,134.1 L741.9,135.9 L742.7,132.7 L743.6,135.6 L744.5,134.9 L745.3,135.5 L746.2,136.2 L747.1,135.6 L748.0,133.5 L748.8,135.0 L749.7,134.3 L750.6,135.4 L751.5,135.9 L752.3,134.0 L753.2,136.3 L754.1,137.0 L755.0,134.8 L755.8,136.1 L756.7,133.1 L757.6,134.3 L758.5,136.3 L759.3,132.5 L760.2,134.2 L761.1,133.5 L762.0,136.3 L762.8,136.2 L763.7,133.7 L764.6,134.6 L765.5,130.8 L766.3,135.5 L767.2,134.7 L768.1,135.9 L768.9,130.7 L769.8,134.4 L770.7,133.4 L771.6,130.2 L772.4,132.8 L773.3,133.5 L774.2,134.7 L775.1,133.8 L775.9,132.7 L776.8,133.9 L777.7,133.1 L778.6,132.2 L779.4,131.6 L780.3,133.2 L781.2,133.1 L782.1,135.4 L782.9,132.1 L783.8,134.9 L784.7,133.0 L785.6,134.1 L786.4,131.2 L787.3,131.1 L788.2,131.9 L789.0,133.5 L789.9,132.4 L790.8,133.2 L791.7,132.6 L792.5,133.5 L793.4,132.4 L794.3,131.4 L795.2,132.8 L796.0,132.3 L796.9,134.6 L797.8,132.0 L798.7,132.4 L799.5,131.9 L800.4,134.0 L801.3,133.7 L802.2,133.5 L803.0,131.0 L803.9,130.7 L804.8,133.3 L805.7,134.0 L806.5,135.2 L807.4,130.7 L808.3,133.1 L809.2,131.1 L810.0,132.2 L810.9,133.3 L811.8,135.0 L812.6,133.0 L813.5,132.8 L814.4,133.4 L815.3,135.6 L816.1,137.2 L817.0,131.8 L817.9,133.5 L818.8,133.4 L819.6,135.6 L820.5,134.6 L821.4,136.1 L822.3,132.6 L823.1,134.1 L824.0,133.4 L824.9,132.6 L825.8,133.9 L826.6,132.5 L827.5,137.1 L828.4,134.7 L829.3,132.8 L830.1,133.4 L831.0,136.6 L831.9,133.6 L832.7,135.2 L833.6,135.1 L834.5,135.8 L835.4,135.2 L836.2,134.1 L837.1,133.6 L838.0,132.0 L838.9,134.4 L839.7,134.7 L840.6,134.1 L841.5,134.4 L842.4,133.0 L843.2,137.7 L844.1,134.1 L845.0,133.4 L845.9,134.0 L846.7,134.7 L847.6,136.0 L848.5,131.6 L849.4,135.7 L850.2,134.2 L851.1,134.8 L852.0,136.5 L852.9,136.1 L853.7,134.2 L854.6,135.0 L855.5,137.7 L856.3,136.9 L857.2,136.2 L858.1,135.0 L859.0,136.2 L859.8,135.4 L860.7,134.0 L861.6,133.3 L862.5,135.3 L863.3,135.0 L864.2,136.1 L865.1,133.6 L866.0,136.1 L866.8,133.6 L867.7,135.7 L868.6,134.6 L869.5,133.0 L870.3,132.4 L871.2,133.4 L872.1,133.1 L873.0,134.7 L873.8,132.4 L874.7,131.2 L875.6,133.2 L876.4,135.8 L877.3,135.4 L878.2,132.2 L879.1,132.6 L879.9,133.4 L880.8,131.9 L881.7,132.5 L882.6,132.4 L883.4,131.2 L884.3,131.8 L885.2,131.9 L886.1,132.9 L886.9,130.8 L887.8,132.6 L888.7,131.0 L889.6,131.2 L890.4,130.7 L891.3,137.8 L892.2,134.0 L893.1,134.0 L893.9,133.3 L894.8,131.8 L895.7,132.1 L896.6,132.4 L897.4,132.6 L898.3,132.8 L899.2,134.0 L900.0,127.8 L900.9,131.1 L901.8,132.8 L902.7,131.3 L903.5,131.5 L904.4,133.8 L905.3,131.9 L906.2,134.1 L907.0,131.6 L907.9,131.9 L908.8,130.1 L909.7,128.8 L910.5,130.9 L911.4,131.6 L912.3,131.0 L913.2,129.6 L914.0,132.3 L914.9,131.5 L915.8,131.4 L916.7,130.3 L917.5,133.6 L918.4,133.4 L919.3,131.7" fill="none" stroke="#ff0000" stroke-width="2.5" stroke-linejoin="round" stroke-linecap="butt"/>
<path d="M481.4,203.7 L482.3,202.5 L483.1,202.1 L484.0,201.2 L484.9,203.0 L485.8,204.1 L486.6,203.2 L487.5,203.6 L488.4,203.9 L489.3,202.6 L490.1,205.0 L491.0,202.6 L491.9,203.5 L492.8,205.1 L493.6,203.1 L494.5,203.3 L495.4,202.8 L496.3,203.4 L497.1,201.7 L498.0,202.8 L498.9,204.4 L499.8,203.3 L500.6,203.0 L501.5,203.5 L502.4,203.5 L503.3,203.3 L504.1,203.6 L505.0,202.1 L505.9,203.6 L506.7,202.7 L507.6,203.7 L508.5,203.2 L509.4,202.5 L510.2,203.2 L511.1,202.5 L512.0,203.9 L512.9,203.2 L513.7,203.8 L514.6,202.4 L515.5,204.3 L516.4,203.0 L517.2,204.1 L518.1,203.8 L519.0,202.4 L519.9,203.4 L520.7,202.8 L521.6,203.5 L522.5,204.2 L523.4,203.7 L524.2,203.9 L525.1,202.4 L526.0,203.3 L526.8,203.4 L527.7,203.9 L528.6,202.8 L529.5,203.6 L530.3,203.5 L531.2,202.1 L532.1,202.4 L533.0,203.4 L533.8,202.3 L534.7,202.2 L535.6,203.7 L536.5,203.2 L537.3,202.8 L538.2,203.0 L539.1,202.6 L540.0,202.5 L540.8,202.5 L541.7,203.0 L542.6,203.6 L543.5,202.3 L544.3,202.5 L545.2,202.4 L546.1,201.6 L547.0,202.6 L547.8,202.9 L548.7,201.7 L549.6,202.8 L550.4,201.7 L551.3,202.8 L552.2,202.8 L553.1,201.6 L553.9,200.5 L554.8,201.5 L555.7,200.7 L556.6,200.7 L557.4,201.3 L558.3,202.4 L559.2,201.2 L560.1,201.0 L560.9,199.8 L561.8,200.5 L562.7,199.8 L563.6,201.0 L564.4,200.1 L565.3,200.3 L566.2,200.1 L567.1,199.7 L567.9,200.2 L568.8,199.5 L569.7,198.5 L570.5,198.3 L571.4,198.0 L572.3,197.9 L573.2,195.8 L574.0,195.2 L574.9,191.9 L575.8,190.4 L576.7,188.1 L577.5,189.1 L578.4,187.0 L579.3,186.5 L580.2,187.5 L581.0,185.7 L581.9,184.6 L582.8,185.0 L583.7,183.0 L584.5,182.7 L585.4,180.2 L586.3,179.7 L587.2,178.2 L588.0,175.4 L588.9,174.7 L589.8,170.3 L590.7,167.9 L591.5,165.2 L592.4,162.7 L593.3,157.7 L594.1,153.7 L595.0,150.6 L595.9,148.0 L596.8,142.2 L597.6,137.0 L598.5,133.6 L599.4,129.1 L600.3,121.7 L601.1,116.2 L602.0,107.1 L602.9,102.9 L603.8,96.0 L604.6,89.5 L605.5,81.2 L606.4,74.2 L607.3,64.4 L608.1,59.8 L609.0,52.2 L609.9,56.1 L610.8,63.9 L611.6,69.5 L612.5,71.0 L613.4,81.9 L614.2,86.9 L615.1,91.1 L616.0,96.1 L616.9,99.5 L617.7,104.8 L618.6,104.4 L619.5,109.0 L620.4,112.2 L621.2,112.6 L622.1,118.7 L623.0,121.2 L623.9,119.6 L624.7,121.7 L625.6,120.5 L626.5,120.2 L627.4,117.8 L628.2,118.0 L629.1,113.7 L630.0,115.4 L630.9,112.6 L631.7,113.9 L632.6,107.1 L633.5,107.9 L634.4,105.1 L635.2,105.5 L636.1,105.1 L637.0,102.0 L637.8,99.9 L638.7,98.1 L639.6,99.2 L640.5,99.1 L641.3,97.3 L642.2,94.1 L643.1,91.1 L644.0,90.5 L644.8,87.2 L645.7,85.6 L646.6,88.1 L647.5,84.7 L648.3,84.4 L649.2,82.5 L650.1,83.9 L651.0,83.2 L651.8,78.9 L652.7,78.8 L653.6,77.5 L654.5,79.9 L655.3,79.1 L656.2,76.0 L657.1,79.4 L657.9,75.3 L658.8,72.8 L659.7,70.9 L660.6,73.4 L661.4,73.7 L662.3,71.8 L663.2,73.0 L664.1,74.1 L664.9,71.9 L665.8,73.1 L666.7,74.3 L667.6,72.2 L668.4,70.3 L669.3,71.6 L670.2,71.5 L671.1,73.8 L671.9,69.5 L672.8,67.5 L673.7,70.3 L674.6,70.3 L675.4,69.2 L676.3,70.8 L677.2,70.5 L678.1,72.2 L678.9,69.1 L679.8,69.5 L680.7,70.8 L681.5,70.2 L682.4,73.3 L683.3,72.5 L684.2,71.8 L685.0,74.5 L685.9,73.2 L686.8,74.3 L687.7,74.2 L688.5,73.0 L689.4,73.2 L690.3,73.6 L691.2,72.1 L692.0,73.5 L692.9,75.6 L693.8,75.0 L694.7,73.3 L695.5,78.8 L696.4,73.8 L697.3,76.9 L698.2,77.7 L699.0,79.3 L699.9,76.7 L700.8,78.9 L701.6,79.3 L702.5,82.0 L703.4,81.4 L704.3,81.9 L705.1,82.6 L706.0,85.3 L706.9,83.9 L707.8,84.8 L708.6,82.8 L709.5,86.1 L710.4,84.2 L711.3,89.1 L712.1,90.0 L713.0,90.5 L713.9,91.8 L714.8,94.4 L715.6,95.7 L716.5,95.6 L717.4,96.8 L718.3,97.5 L719.1,97.9 L720.0,99.1 L720.9,100.4 L721.8,102.4 L722.6,102.1 L723.5,101.1 L724.4,104.7 L725.2,104.8 L726.1,103.4 L727.0,105.8 L727.9,104.3 L728.7,104.6 L729.6,105.2 L730.5,108.9 L731.4,107.4 L732.2,108.1 L733.1,108.3 L734.0,108.1 L734.9,109.7 L735.7,110.3 L736.6,112.5 L737.5,109.2 L738.4,112.7 L739.2,111.9 L740.1,109.1 L741.0,113.0 L741.9,114.1 L742.7,113.6 L743.6,112.7 L744.5,112.6 L745.3,109.9 L746.2,113.0 L747.1,112.8 L748.0,111.4 L748.8,112.9 L749.7,111.9 L750.6,115.7 L751.5,111.2 L752.3,111.6 L753.2,110.0 L754.1,112.3 L755.0,113.0 L755.8,112.8 L756.7,112.0 L757.6,113.9 L758.5,113.0 L759.3,114.1 L760.2,112.2 L761.1,109.9 L762.0,111.7 L762.8,110.4 L763.7,112.5 L764.6,110.4 L765.5,110.6 L766.3,110.6 L767.2,108.4 L768.1,109.7 L768.9,111.2 L769.8,109.1 L770.7,109.6 L771.6,110.0 L772.4,108.9 L773.3,109.4 L774.2,110.5 L775.1,109.5 L775.9,110.2 L776.8,110.1 L777.7,109.0 L778.6,108.9 L779.4,113.4 L780.3,112.8 L781.2,111.0 L782.1,112.5 L782.9,112.9 L783.8,112.8 L784.7,111.1 L785.6,109.8 L786.4,110.1 L787.3,111.4 L788.2,113.5 L789.0,113.7 L789.9,111.4 L790.8,111.2 L791.7,113.2 L792.5,114.3 L793.4,110.3 L794.3,112.1 L795.2,111.6 L796.0,110.9 L796.9,110.9 L797.8,110.8 L798.7,111.2 L799.5,109.1 L800.4,111.1 L801.3,112.1 L802.2,112.0 L803.0,112.0 L803.9,111.4 L804.8,111.1 L805.7,113.4 L806.5,110.5 L807.4,110.9 L808.3,112.3 L809.2,110.7 L810.0,108.9 L810.9,109.8 L811.8,109.9 L812.6,110.2 L813.5,109.8 L814.4,111.7 L815.3,111.3 L816.1,110.9 L817.0,109.7 L817.9,111.6 L818.8,111.6 L819.6,113.1 L820.5,109.5 L821.4,110.2 L822.3,112.2 L823.1,109.0 L824.0,110.9 L824.9,111.0 L825.8,110.9 L826.6,109.7 L827.5,111.1 L828.4,109.3 L829.3,112.9 L830.1,110.9 L831.0,111.8 L831.9,111.7 L832.7,112.1 L833.6,112.1 L834.5,112.6 L835.4,111.7 L836.2,112.3 L837.1,110.8 L838.0,110.9 L838.9,111.2 L839.7,111.0 L840.6,110.6 L841.5,111.6 L842.4,113.3 L843.2,113.0 L844.1,112.0 L845.0,113.0 L845.9,113.1 L846.7,116.1 L847.6,110.6 L848.5,113.0 L849.4,111.0 L850.2,114.3 L851.1,112.4 L852.0,113.3 L852.9,113.0 L853.7,113.7 L854.6,108.9 L855.5,111.2 L856.3,112.9 L857.2,111.0 L858.1,113.5 L859.0,114.4 L859.8,111.1 L860.7,112.2 L861.6,113.6 L862.5,115.1 L863.3,114.1 L864.2,113.7 L865.1,111.6 L866.0,112.8 L866.8,112.9 L867.7,112.0 L868.6,113.3 L869.5,112.3 L870.3,112.2 L871.2,115.5 L872.1,112.4 L873.0,114.9 L873.8,111.9 L874.7,112.2 L875.6,110.5 L876.4,111.2 L877.3,113.9 L878.2,111.7 L879.1,108.9 L879.9,113.3 L880.8,110.1 L881.7,110.6 L882.6,111.0 L883.4,108.6 L884.3,113.0 L885.2,112.7 L886.1,110.6 L886.9,111.5 L887.8,110.6 L888.7,110.2 L889.6,110.7 L890.4,109.1 L891.3,110.5 L892.2,110.3 L893.1,113.5 L893.9,109.1 L894.8,112.7 L895.7,111.9 L896.6,111.2 L897.4,110.2 L898.3,113.4 L899.2,112.9 L900.0,110.9 L900.9,110.7 L901.8,111.2 L902.7,113.4 L903.5,109.8 L904.4,111.1 L905.3,112.5 L906.2,109.1 L907.0,110.8 L907.9,112.3 L908.8,110.3 L909.7,110.6 L910.5,108.7 L911.4,111.2 L912.3,109.1 L913.2,110.1 L914.0,111.0 L914.9,109.7 L915.8,111.6 L916.7,111.3 L917.5,110.9 L918.4,111.5 L919.3,110.0" fill="none" stroke="#4db8ff" stroke-width="2.5" stroke-linejoin="round" stroke-linecap="butt"/>
<path d="M481.4,180.2 L482.3,180.7 L483.1,181.8 L484.0,181.1 L484.9,182.0 L485.8,182.3 L486.6,180.4 L487.5,182.5 L488.4,181.2 L489.3,183.5 L490.1,182.4 L491.0,181.3 L491.9,182.0 L492.8,182.0 L493.6,182.1 L494.5,183.0 L495.4,182.3 L496.3,183.3 L497.1,182.4 L498.0,181.7 L498.9,180.6 L499.8,180.6 L500.6,182.1 L501.5,182.5 L502.4,183.1 L503.3,181.4 L504.1,182.0 L505.0,181.2 L505.9,181.5 L506.7,179.9 L507.6,182.5 L508.5,181.2 L509.4,181.7 L510.2,182.1 L511.1,182.0 L512.0,180.6 L512.9,182.9 L513.7,182.2 L514.6,182.0 L515.5,181.0 L516.4,180.1 L517.2,180.1 L518.1,181.2 L519.0,181.5 L519.9,180.7 L520.7,182.8 L521.6,181.4 L522.5,182.0 L523.4,181.9 L524.2,180.2 L525.1,181.9 L526.0,181.4 L526.8,179.9 L527.7,181.5 L528.6,181.8 L529.5,181.7 L530.3,181.7 L531.2,179.6 L532.1,180.6 L533.0,180.3 L533.8,180.8 L534.7,180.8 L535.6,181.6 L536.5,181.3 L537.3,179.9 L538.2,181.4 L539.1,182.0 L540.0,180.8 L540.8,179.3 L541.7,180.0 L542.6,180.3 L543.5,179.1 L544.3,180.3 L545.2,179.3 L546.1,181.1 L547.0,180.9 L547.8,180.3 L548.7,179.2 L549.6,180.5 L550.4,179.7 L551.3,179.6 L552.2,181.1 L553.1,179.5 L553.9,178.9 L554.8,180.7 L555.7,181.5 L556.6,181.3 L557.4,180.5 L558.3,181.6 L559.2,179.4 L560.1,181.5 L560.9,181.4 L561.8,179.2 L562.7,179.7 L563.6,178.1 L564.4,178.2 L565.3,179.5 L566.2,177.8 L567.1,178.7 L567.9,178.5 L568.8,177.8 L569.7,177.9 L570.5,178.1 L571.4,175.8 L572.3,175.7 L573.2,174.4 L574.0,170.5 L574.9,168.3 L575.8,165.2 L576.7,167.0 L577.5,166.8 L578.4,165.6 L579.3,166.7 L580.2,165.9 L581.0,165.0 L581.9,164.0 L582.8,163.0 L583.7,163.7 L584.5,163.3 L585.4,161.8 L586.3,160.3 L587.2,158.6 L588.0,157.9 L588.9,153.4 L589.8,152.7 L590.7,150.5 L591.5,148.2 L592.4,145.1 L593.3,140.8 L594.1,137.4 L595.0,133.4 L595.9,132.5 L596.8,127.0 L597.6,120.0 L598.5,111.8 L599.4,105.4 L600.3,103.6 L601.1,94.9 L602.0,85.5 L602.9,76.6 L603.8,59.5 L604.6,49.1 L605.5,40.3 L606.4,30.1 L607.3,18.4 L608.1,15.0 L609.0,10.1 L609.9,10.0 L610.8,17.0 L611.6,24.1 L612.5,34.5 L613.4,44.9 L614.2,58.3 L615.1,63.6 L616.0,74.0 L616.9,78.3 L617.7,84.3 L618.6,90.5 L619.5,97.9 L620.4,99.8 L621.2,99.0 L622.1,104.7 L623.0,105.2 L623.9,103.9 L624.7,104.0 L625.6,104.5 L626.5,102.7 L627.4,107.6 L628.2,103.2 L629.1,103.2 L630.0,102.3 L630.9,100.9 L631.7,99.4 L632.6,99.6 L633.5,95.4 L634.4,93.6 L635.2,91.9 L636.1,92.4 L637.0,87.7 L637.8,85.7 L638.7,85.8 L639.6,81.8 L640.5,81.5 L641.3,82.1 L642.2,80.1 L643.1,78.4 L644.0,79.7 L644.8,75.3 L645.7,73.5 L646.6,69.8 L647.5,70.5 L648.3,69.0 L649.2,64.5 L650.1,67.1 L651.0,64.3 L651.8,63.0 L652.7,58.2 L653.6,59.9 L654.5,59.1 L655.3,53.9 L656.2,56.7 L657.1,55.5 L657.9,52.2 L658.8,55.3 L659.7,57.2 L660.6,53.2 L661.4,48.5 L662.3,48.9 L663.2,51.3 L664.1,47.7 L664.9,49.9 L665.8,49.5 L666.7,49.9 L667.6,52.8 L668.4,47.1 L669.3,52.1 L670.2,50.4 L671.1,49.6 L671.9,46.4 L672.8,49.7 L673.7,48.1 L674.6,43.2 L675.4,46.0 L676.3,46.1 L677.2,46.3 L678.1,46.9 L678.9,46.4 L679.8,50.7 L680.7,49.8 L681.5,47.6 L682.4,50.4 L683.3,51.8 L684.2,48.8 L685.0,45.6 L685.9,48.8 L686.8,50.8 L687.7,46.4 L688.5,48.3 L689.4,50.1 L690.3,50.6 L691.2,50.0 L692.0,49.0 L692.9,48.0 L693.8,47.1 L694.7,49.9 L695.5,49.6 L696.4,46.9 L697.3,46.5 L698.2,50.8 L699.0,51.8 L699.9,50.3 L700.8,50.1 L701.6,54.3 L702.5,56.5 L703.4,57.7 L704.3,58.2 L705.1,54.6 L706.0,58.0 L706.9,57.7 L707.8,57.6 L708.6,64.0 L709.5,60.1 L710.4,61.3 L711.3,61.4 L712.1,64.4 L713.0,66.5 L713.9,65.3 L714.8,66.8 L715.6,67.3 L716.5,67.5 L717.4,70.1 L718.3,72.1 L719.1,72.7 L720.0,73.4 L720.9,71.8 L721.8,76.5 L722.6,77.2 L723.5,80.3 L724.4,77.6 L725.2,77.2 L726.1,77.1 L727.0,79.9 L727.9,81.5 L728.7,82.7 L729.6,80.4 L730.5,82.6 L731.4,85.7 L732.2,84.8 L733.1,84.7 L734.0,85.2 L734.9,83.9 L735.7,84.7 L736.6,86.7 L737.5,90.0 L738.4,90.5 L739.2,89.0 L740.1,90.7 L741.0,90.8 L741.9,92.3 L742.7,89.7 L743.6,91.3 L744.5,92.4 L745.3,89.1 L746.2,90.9 L747.1,91.3 L748.0,91.6 L748.8,91.8 L749.7,91.9 L750.6,92.5 L751.5,93.1 L752.3,91.6 L753.2,94.3 L754.1,90.3 L755.0,90.7 L755.8,91.5 L756.7,89.8 L757.6,88.7 L758.5,88.9 L759.3,92.6 L760.2,89.8 L761.1,88.7 L762.0,93.5 L762.8,91.1 L763.7,90.7 L764.6,88.8 L765.5,90.6 L766.3,89.2 L767.2,90.3 L768.1,89.8 L768.9,89.4 L769.8,89.9 L770.7,88.2 L771.6,88.8 L772.4,88.2 L773.3,89.9 L774.2,90.3 L775.1,90.4 L775.9,86.1 L776.8,91.7 L777.7,88.6 L778.6,88.7 L779.4,88.7 L780.3,88.6 L781.2,90.6 L782.1,88.8 L782.9,88.9 L783.8,89.9 L784.7,90.3 L785.6,86.7 L786.4,86.2 L787.3,85.0 L788.2,84.9 L789.0,88.2 L789.9,87.8 L790.8,87.4 L791.7,87.9 L792.5,87.7 L793.4,89.0 L794.3,89.6 L795.2,85.7 L796.0,89.1 L796.9,88.4 L797.8,85.5 L798.7,87.0 L799.5,86.1 L800.4,84.1 L801.3,86.9 L802.2,84.4 L803.0,87.0 L803.9,85.5 L804.8,86.7 L805.7,88.6 L806.5,87.7 L807.4,86.4 L808.3,88.2 L809.2,89.0 L810.0,89.6 L810.9,87.0 L811.8,90.1 L812.6,88.3 L813.5,87.9 L814.4,90.7 L815.3,90.0 L816.1,90.3 L817.0,89.7 L817.9,87.0 L818.8,90.6 L819.6,90.9 L820.5,90.1 L821.4,93.0 L822.3,90.8 L823.1,93.3 L824.0,92.7 L824.9,89.9 L825.8,89.8 L826.6,90.6 L827.5,91.0 L828.4,92.1 L829.3,90.1 L830.1,89.4 L831.0,94.2 L831.9,91.0 L832.7,91.3 L833.6,93.5 L834.5,90.9 L835.4,87.2 L836.2,91.4 L837.1,89.6 L838.0,92.0 L838.9,87.7 L839.7,90.7 L840.6,91.6 L841.5,92.5 L842.4,91.8 L843.2,91.7 L844.1,90.3 L845.0,90.3 L845.9,88.8 L846.7,91.8 L847.6,92.8 L848.5,91.4 L849.4,89.2 L850.2,88.5 L851.1,90.0 L852.0,93.2 L852.9,91.2 L853.7,89.6 L854.6,90.6 L855.5,92.5 L856.3,90.4 L857.2,90.8 L858.1,90.8 L859.0,90.4 L859.8,94.8 L860.7,90.7 L861.6,92.4 L862.5,93.9 L863.3,92.0 L864.2,91.6 L865.1,92.0 L866.0,92.3 L866.8,92.0 L867.7,91.6 L868.6,91.7 L869.5,92.4 L870.3,94.7 L871.2,91.4 L872.1,93.0 L873.0,91.4 L873.8,90.1 L874.7,89.6 L875.6,91.7 L876.4,89.1 L877.3,91.5 L878.2,90.2 L879.1,93.0 L879.9,88.8 L880.8,91.9 L881.7,92.2 L882.6,91.2 L883.4,89.1 L884.3,90.4 L885.2,90.0 L886.1,89.5 L886.9,91.1 L887.8,89.6 L888.7,90.0 L889.6,91.3 L890.4,89.4 L891.3,89.0 L892.2,89.8 L893.1,88.7 L893.9,86.0 L894.8,88.7 L895.7,89.2 L896.6,87.6 L897.4,86.5 L898.3,90.1 L899.2,88.3 L900.0,90.3 L900.9,90.0 L901.8,91.6 L902.7,90.2 L903.5,90.7 L904.4,91.4 L905.3,88.8 L906.2,91.0 L907.0,91.2 L907.9,86.7 L908.8,87.8 L909.7,89.7 L910.5,92.1 L911.4,89.0 L912.3,87.6 L913.2,87.1 L914.0,90.0 L914.9,89.9 L915.8,88.7 L916.7,90.1 L917.5,89.2 L918.4,91.5 L919.3,87.7" fill="none" stroke="#0000ff" stroke-width="2.5" stroke-linejoin="round" stroke-linecap="butt"/>
<path d="M481.4,437.4 L482.3,438.0 L483.1,438.3 L484.0,438.3 L484.9,438.7 L485.8,437.5 L486.6,438.0 L487.5,437.5 L488.4,436.9 L489.3,437.3 L490.1,437.8 L491.0,437.2 L491.9,437.6 L492.8,438.3 L493.6,438.0 L494.5,438.0 L495.4,437.9 L496.3,437.6 L497.1,436.7 L498.0,438.2 L498.9,436.9 L499.8,437.8 L500.6,437.6 L501.5,437.8 L502.4,437.8 L503.3,437.5 L504.1,438.2 L505.0,437.0 L505.9,438.1 L506.7,436.8 L507.6,438.4 L508.5,437.4 L509.4,437.9 L510.2,438.5 L511.1,436.5 L512.0,437.5 L512.9,438.0 L513.7,438.2 L514.6,438.4 L515.5,438.0 L516.4,438.0 L517.2,437.8 L518.1,437.8 L519.0,437.7 L519.9,438.2 L520.7,437.8 L521.6,438.1 L522.5,438.6 L523.4,438.3 L524.2,437.5 L525.1,437.6 L526.0,438.1 L526.8,437.3 L527.7,436.7 L528.6,437.1 L529.5,438.0 L530.3,437.6 L531.2,437.5 L532.1,438.1 L533.0,437.1 L533.8,438.9 L534.7,437.6 L535.6,437.4 L536.5,438.7 L537.3,436.9 L538.2,437.2 L539.1,437.4 L540.0,436.9 L540.8,437.2 L541.7,437.7 L542.6,437.5 L543.5,437.3 L544.3,437.8 L545.2,438.3 L546.1,438.1 L547.0,436.1 L547.8,437.9 L548.7,437.6 L549.6,437.3 L550.4,436.5 L551.3,436.8 L552.2,436.9 L553.1,436.2 L553.9,437.7 L554.8,437.4 L555.7,436.9 L556.6,436.4 L557.4,437.6 L558.3,437.2 L559.2,437.4 L560.1,436.6 L560.9,438.1 L561.8,436.7 L562.7,437.9 L563.6,435.7 L564.4,436.9 L565.3,436.8 L566.2,435.3 L567.1,436.3 L567.9,436.0 L568.8,435.8 L569.7,436.1 L570.5,435.9 L571.4,436.6 L572.3,436.6 L573.2,436.3 L574.0,435.5 L574.9,435.5 L575.8,436.5 L576.7,435.1 L577.5,435.1 L578.4,434.6 L579.3,435.1 L580.2,435.2 L581.0,435.1 L581.9,434.9 L582.8,435.0 L583.7,434.5 L584.5,435.0 L585.4,434.1 L586.3,434.7 L587.2,435.1 L588.0,434.0 L588.9,435.0 L589.8,434.8 L590.7,433.9 L591.5,433.6 L592.4,433.6 L593.3,433.9 L594.1,434.6 L595.0,434.4 L595.9,434.7 L596.8,435.0 L597.6,433.1 L598.5,431.8 L599.4,431.6 L600.3,430.7 L601.1,430.9 L602.0,430.1 L602.9,430.0 L603.8,427.1 L604.6,426.1 L605.5,423.7 L606.4,420.4 L607.3,416.1 L608.1,411.9 L609.0,403.1 L609.9,392.6 L610.8,381.1 L611.6,369.4 L612.5,358.6 L613.4,345.1 L614.2,333.6 L615.1,321.1 L616.0,309.1 L616.9,297.7 L617.7,285.3 L618.6,276.5 L619.5,271.2 L620.4,266.3 L621.2,267.4 L622.1,272.3 L623.0,280.9 L623.9,289.1 L624.7,301.3 L625.6,315.3 L626.5,327.8 L627.4,339.3 L628.2,348.0 L629.1,353.2 L630.0,357.2 L630.9,359.1 L631.7,361.2 L632.6,361.4 L633.5,360.9 L634.4,362.7 L635.2,362.5 L636.1,363.0 L637.0,363.4 L637.8,364.3 L638.7,362.8 L639.6,364.3 L640.5,364.8 L641.3,364.4 L642.2,363.5 L643.1,363.5 L644.0,364.0 L644.8,364.3 L645.7,362.0 L646.6,362.2 L647.5,362.2 L648.3,361.6 L649.2,361.0 L650.1,360.3 L651.0,358.7 L651.8,356.0 L652.7,355.1 L653.6,353.1 L654.5,351.9 L655.3,350.9 L656.2,348.8 L657.1,347.7 L657.9,345.4 L658.8,343.5 L659.7,341.8 L660.6,339.2 L661.4,338.0 L662.3,337.1 L663.2,335.8 L664.1,334.2 L664.9,331.8 L665.8,330.2 L666.7,328.6 L667.6,328.8 L668.4,326.3 L669.3,325.6 L670.2,324.0 L671.1,322.8 L671.9,321.7 L672.8,320.6 L673.7,319.8 L674.6,319.0 L675.4,316.6 L676.3,315.9 L677.2,314.1 L678.1,312.3 L678.9,311.0 L679.8,309.5 L680.7,305.8 L681.5,304.6 L682.4,303.1 L683.3,301.0 L684.2,297.8 L685.0,297.0 L685.9,294.6 L686.8,292.7 L687.7,291.5 L688.5,288.9 L689.4,288.2 L690.3,287.3 L691.2,285.2 L692.0,283.8 L692.9,284.5 L693.8,282.1 L694.7,283.0 L695.5,282.0 L696.4,282.7 L697.3,282.7 L698.2,283.5 L699.0,284.1 L699.9,284.0 L700.8,285.2 L701.6,286.5 L702.5,286.6 L703.4,287.2 L704.3,290.2 L705.1,291.4 L706.0,293.9 L706.9,295.4 L707.8,297.2 L708.6,299.3 L709.5,301.3 L710.4,303.0 L711.3,303.8 L712.1,305.6 L713.0,307.4 L713.9,310.5 L714.8,311.7 L715.6,312.8 L716.5,314.8 L717.4,317.3 L718.3,317.6 L719.1,319.7 L720.0,322.0 L720.9,323.7 L721.8,325.3 L722.6,326.0 L723.5,328.0 L724.4,328.1 L725.2,330.6 L726.1,331.7 L727.0,332.9 L727.9,334.9 L728.7,335.2 L729.6,336.1 L730.5,337.6 L731.4,339.1 L732.2,338.5 L733.1,340.2 L734.0,340.4 L734.9,340.4 L735.7,341.7 L736.6,342.9 L737.5,343.2 L738.4,343.8 L739.2,344.6 L740.1,345.1 L741.0,345.7 L741.9,345.9 L742.7,347.4 L743.6,346.4 L744.5,348.2 L745.3,348.2 L746.2,349.5 L747.1,348.8 L748.0,348.5 L748.8,350.4 L749.7,350.9 L750.6,349.6 L751.5,351.0 L752.3,351.2 L753.2,350.7 L754.1,351.7 L755.0,351.0 L755.8,352.2 L756.7,352.5 L757.6,351.7 L758.5,351.9 L759.3,352.3 L760.2,351.4 L761.1,352.2 L762.0,352.7 L762.8,354.1 L763.7,353.7 L764.6,353.4 L765.5,352.9 L766.3,353.7 L767.2,353.7 L768.1,353.0 L768.9,353.8 L769.8,353.4 L770.7,354.0 L771.6,352.7 L772.4,355.5 L773.3,354.6 L774.2,354.6 L775.1,355.2 L775.9,355.1 L776.8,356.5 L777.7,357.9 L778.6,358.0 L779.4,358.3 L780.3,358.9 L781.2,359.5 L782.1,359.6 L782.9,359.8 L783.8,360.4 L784.7,360.8 L785.6,360.6 L786.4,361.3 L787.3,360.7 L788.2,360.5 L789.0,360.7 L789.9,362.1 L790.8,361.6 L791.7,362.2 L792.5,362.0 L793.4,362.3 L794.3,362.8 L795.2,362.1 L796.0,362.6 L796.9,364.0 L797.8,364.4 L798.7,363.6 L799.5,363.7 L800.4,363.5 L801.3,363.3 L802.2,364.5 L803.0,364.9 L803.9,364.6 L804.8,364.7 L805.7,364.1 L806.5,365.2 L807.4,364.8 L808.3,364.3 L809.2,365.3 L810.0,364.2 L810.9,364.2 L811.8,364.8 L812.6,364.1 L813.5,364.1 L814.4,365.0 L815.3,364.8 L816.1,364.4 L817.0,365.0 L817.9,364.7 L818.8,365.0 L819.6,365.0 L820.5,365.0 L821.4,364.0 L822.3,365.0 L823.1,364.5 L824.0,364.8 L824.9,364.5 L825.8,364.9 L826.6,364.3 L827.5,364.0 L828.4,364.5 L829.3,363.9 L830.1,363.3 L831.0,363.7 L831.9,363.5 L832.7,363.3 L833.6,363.3 L834.5,362.8 L835.4,362.7 L836.2,364.6 L837.1,362.4 L838.0,362.9 L838.9,362.8 L839.7,362.3 L840.6,362.3 L841.5,361.9 L842.4,361.8 L843.2,363.3 L844.1,361.8 L845.0,361.8 L845.9,362.8 L846.7,361.5 L847.6,362.9 L848.5,362.1 L849.4,362.9 L850.2,361.6 L851.1,361.7 L852.0,362.4 L852.9,361.8 L853.7,361.6 L854.6,362.5 L855.5,361.9 L856.3,361.5 L857.2,361.9 L858.1,362.2 L859.0,361.8 L859.8,363.2 L860.7,362.2 L861.6,361.9 L862.5,362.0 L863.3,362.4 L864.2,361.6 L865.1,361.8 L866.0,361.9 L866.8,361.8 L867.7,361.7 L868.6,360.4 L869.5,361.5 L870.3,361.9 L871.2,362.5 L872.1,361.4 L873.0,361.9 L873.8,361.7 L874.7,362.0 L875.6,362.9 L876.4,362.7 L877.3,362.8 L878.2,361.4 L879.1,361.5 L879.9,362.3 L880.8,361.3 L881.7,362.4 L882.6,363.8 L883.4,361.3 L884.3,362.4 L885.2,362.0 L886.1,362.1 L886.9,361.7 L887.8,360.9 L888.7,361.5 L889.6,361.2 L890.4,360.9 L891.3,361.5 L892.2,361.7 L893.1,361.0 L893.9,361.8 L894.8,361.4 L895.7,361.6 L896.6,361.5 L897.4,360.9 L898.3,362.5 L899.2,361.4 L900.0,361.6 L900.9,360.9 L901.8,361.0 L902.7,361.4 L903.5,360.5 L904.4,361.0 L905.3,361.7 L906.2,360.6 L907.0,360.8 L907.9,360.1 L908.8,360.8 L909.7,360.8 L910.5,360.6 L911.4,360.8 L912.3,360.3 L913.2,360.4 L914.0,361.0 L914.9,360.9 L915.8,360.5 L916.7,361.3 L917.5,360.3 L918.4,360.2 L919.3,360.6" fill="none" stroke="#808080" stroke-width="2.5" stroke-linejoin="round" stroke-linecap="butt"/>
</g>
<line x1="82.5" y1="148.2" x2="82.5" y2="272.6" stroke="#808080" stroke-width="2.2" stroke-dasharray="4.8 4.38"/>
<line x1="99.6" y1="6.0" x2="99.6" y2="285.2" stroke="#808080" stroke-width="2.2" stroke-dasharray="4.8 4.38"/>
<line x1="122.7" y1="147.1" x2="122.7" y2="262.5" stroke="#808080" stroke-width="2.2" stroke-dasharray="4.8 4.38"/>
<line x1="579.5" y1="128.4" x2="579.5" y2="271.8" stroke="#808080" stroke-width="2.2" stroke-dasharray="4.8 4.38"/>
<line x1="610.4" y1="9.9" x2="610.4" y2="225.8" stroke="#808080" stroke-width="2.2" stroke-dasharray="4.8 4.38"/>
<rect x="20.4" y="0.9" width="437.0" height="446.3" fill="none" stroke="#000" stroke-width="2.3"/>
<rect x="481.7" y="0.9" width="437.00000000000006" height="446.3" fill="none" stroke="#000" stroke-width="2.3"/>
<line x1="20.40" y1="0.9" x2="20.40" y2="6.0" stroke="#000" stroke-width="2.2"/>
<line x1="20.40" y1="447.2" x2="20.40" y2="452.7" stroke="#000" stroke-width="2.2"/>
<line x1="33.25" y1="0.9" x2="33.25" y2="6.0" stroke="#000" stroke-width="2.2"/>
<line x1="33.25" y1="447.2" x2="33.25" y2="452.7" stroke="#000" stroke-width="2.2"/>
<line x1="46.11" y1="0.9" x2="46.11" y2="6.0" stroke="#000" stroke-width="2.2"/>
<line x1="46.11" y1="447.2" x2="46.11" y2="452.7" stroke="#000" stroke-width="2.2"/>
<line x1="58.96" y1="0.9" x2="58.96" y2="6.0" stroke="#000" stroke-width="2.2"/>
<line x1="58.96" y1="447.2" x2="58.96" y2="452.7" stroke="#000" stroke-width="2.2"/>
<line x1="71.81" y1="0.9" x2="71.81" y2="10.8" stroke="#000" stroke-width="2.2"/>
<line x1="71.81" y1="447.2" x2="71.81" y2="457.0" stroke="#000" stroke-width="2.2"/>
<line x1="84.66" y1="0.9" x2="84.66" y2="6.0" stroke="#000" stroke-width="2.2"/>
<line x1="84.66" y1="447.2" x2="84.66" y2="452.7" stroke="#000" stroke-width="2.2"/>
<line x1="97.52" y1="0.9" x2="97.52" y2="6.0" stroke="#000" stroke-width="2.2"/>
<line x1="97.52" y1="447.2" x2="97.52" y2="452.7" stroke="#000" stroke-width="2.2"/>
<line x1="110.37" y1="0.9" x2="110.37" y2="6.0" stroke="#000" stroke-width="2.2"/>
<line x1="110.37" y1="447.2" x2="110.37" y2="452.7" stroke="#000" stroke-width="2.2"/>
<line x1="123.22" y1="0.9" x2="123.22" y2="6.0" stroke="#000" stroke-width="2.2"/>
<line x1="123.22" y1="447.2" x2="123.22" y2="452.7" stroke="#000" stroke-width="2.2"/>
<line x1="136.08" y1="0.9" x2="136.08" y2="10.8" stroke="#000" stroke-width="2.2"/>
<line x1="136.08" y1="447.2" x2="136.08" y2="457.0" stroke="#000" stroke-width="2.2"/>
<line x1="148.93" y1="0.9" x2="148.93" y2="6.0" stroke="#000" stroke-width="2.2"/>
<line x1="148.93" y1="447.2" x2="148.93" y2="452.7" stroke="#000" stroke-width="2.2"/>
<line x1="161.78" y1="0.9" x2="161.78" y2="6.0" stroke="#000" stroke-width="2.2"/>
<line x1="161.78" y1="447.2" x2="161.78" y2="452.7" stroke="#000" stroke-width="2.2"/>
<line x1="174.64" y1="0.9" x2="174.64" y2="6.0" stroke="#000" stroke-width="2.2"/>
<line x1="174.64" y1="447.2" x2="174.64" y2="452.7" stroke="#000" stroke-width="2.2"/>
<line x1="187.49" y1="0.9" x2="187.49" y2="6.0" stroke="#000" stroke-width="2.2"/>
<line x1="187.49" y1="447.2" x2="187.49" y2="452.7" stroke="#000" stroke-width="2.2"/>
<line x1="200.34" y1="0.9" x2="200.34" y2="10.8" stroke="#000" stroke-width="2.2"/>
<line x1="200.34" y1="447.2" x2="200.34" y2="457.0" stroke="#000" stroke-width="2.2"/>
<line x1="213.19" y1="0.9" x2="213.19" y2="6.0" stroke="#000" stroke-width="2.2"/>
<line x1="213.19" y1="447.2" x2="213.19" y2="452.7" stroke="#000" stroke-width="2.2"/>
<line x1="226.05" y1="0.9" x2="226.05" y2="6.0" stroke="#000" stroke-width="2.2"/>
<line x1="226.05" y1="447.2" x2="226.05" y2="452.7" stroke="#000" stroke-width="2.2"/>
<line x1="238.90" y1="0.9" x2="238.90" y2="6.0" stroke="#000" stroke-width="2.2"/>
<line x1="238.90" y1="447.2" x2="238.90" y2="452.7" stroke="#000" stroke-width="2.2"/>
<line x1="251.75" y1="0.9" x2="251.75" y2="6.0" stroke="#000" stroke-width="2.2"/>
<line x1="251.75" y1="447.2" x2="251.75" y2="452.7" stroke="#000" stroke-width="2.2"/>
<line x1="264.61" y1="0.9" x2="264.61" y2="10.8" stroke="#000" stroke-width="2.2"/>
<line x1="264.61" y1="447.2" x2="264.61" y2="457.0" stroke="#000" stroke-width="2.2"/>
<line x1="277.46" y1="0.9" x2="277.46" y2="6.0" stroke="#000" stroke-width="2.2"/>
<line x1="277.46" y1="447.2" x2="277.46" y2="452.7" stroke="#000" stroke-width="2.2"/>
<line x1="290.31" y1="0.9" x2="290.31" y2="6.0" stroke="#000" stroke-width="2.2"/>
<line x1="290.31" y1="447.2" x2="290.31" y2="452.7" stroke="#000" stroke-width="2.2"/>
<line x1="303.16" y1="0.9" x2="303.16" y2="6.0" stroke="#000" stroke-width="2.2"/>
<line x1="303.16" y1="447.2" x2="303.16" y2="452.7" stroke="#000" stroke-width="2.2"/>
<line x1="316.02" y1="0.9" x2="316.02" y2="6.0" stroke="#000" stroke-width="2.2"/>
<line x1="316.02" y1="447.2" x2="316.02" y2="452.7" stroke="#000" stroke-width="2.2"/>
<line x1="328.87" y1="0.9" x2="328.87" y2="10.8" stroke="#000" stroke-width="2.2"/>
<line x1="328.87" y1="447.2" x2="328.87" y2="457.0" stroke="#000" stroke-width="2.2"/>
<line x1="341.72" y1="0.9" x2="341.72" y2="6.0" stroke="#000" stroke-width="2.2"/>
<line x1="341.72" y1="447.2" x2="341.72" y2="452.7" stroke="#000" stroke-width="2.2"/>
<line x1="354.58" y1="0.9" x2="354.58" y2="6.0" stroke="#000" stroke-width="2.2"/>
<line x1="354.58" y1="447.2" x2="354.58" y2="452.7" stroke="#000" stroke-width="2.2"/>
<line x1="367.43" y1="0.9" x2="367.43" y2="6.0" stroke="#000" stroke-width="2.2"/>
<line x1="367.43" y1="447.2" x2="367.43" y2="452.7" stroke="#000" stroke-width="2.2"/>
<line x1="380.28" y1="0.9" x2="380.28" y2="6.0" stroke="#000" stroke-width="2.2"/>
<line x1="380.28" y1="447.2" x2="380.28" y2="452.7" stroke="#000" stroke-width="2.2"/>
<line x1="393.14" y1="0.9" x2="393.14" y2="10.8" stroke="#000" stroke-width="2.2"/>
<line x1="393.14" y1="447.2" x2="393.14" y2="457.0" stroke="#000" stroke-width="2.2"/>
<line x1="405.99" y1="0.9" x2="405.99" y2="6.0" stroke="#000" stroke-width="2.2"/>
<line x1="405.99" y1="447.2" x2="405.99" y2="452.7" stroke="#000" stroke-width="2.2"/>
<line x1="418.84" y1="0.9" x2="418.84" y2="6.0" stroke="#000" stroke-width="2.2"/>
<line x1="418.84" y1="447.2" x2="418.84" y2="452.7" stroke="#000" stroke-width="2.2"/>
<line x1="431.69" y1="0.9" x2="431.69" y2="6.0" stroke="#000" stroke-width="2.2"/>
<line x1="431.69" y1="447.2" x2="431.69" y2="452.7" stroke="#000" stroke-width="2.2"/>
<line x1="444.55" y1="0.9" x2="444.55" y2="6.0" stroke="#000" stroke-width="2.2"/>
<line x1="444.55" y1="447.2" x2="444.55" y2="452.7" stroke="#000" stroke-width="2.2"/>
<line x1="457.40" y1="0.9" x2="457.40" y2="10.8" stroke="#000" stroke-width="2.2"/>
<line x1="457.40" y1="447.2" x2="457.40" y2="457.0" stroke="#000" stroke-width="2.2"/>
<line x1="481.70" y1="0.9" x2="481.70" y2="6.0" stroke="#000" stroke-width="2.2"/>
<line x1="481.70" y1="447.2" x2="481.70" y2="452.7" stroke="#000" stroke-width="2.2"/>
<line x1="503.55" y1="0.9" x2="503.55" y2="6.0" stroke="#000" stroke-width="2.2"/>
<line x1="503.55" y1="447.2" x2="503.55" y2="452.7" stroke="#000" stroke-width="2.2"/>
<line x1="525.40" y1="0.9" x2="525.40" y2="10.8" stroke="#000" stroke-width="2.2"/>
<line x1="525.40" y1="447.2" x2="525.40" y2="457.0" stroke="#000" stroke-width="2.2"/>
<line x1="547.25" y1="0.9" x2="547.25" y2="6.0" stroke="#000" stroke-width="2.2"/>
<line x1="547.25" y1="447.2" x2="547.25" y2="452.7" stroke="#000" stroke-width="2.2"/>
<line x1="569.10" y1="0.9" x2="569.10" y2="6.0" stroke="#000" stroke-width="2.2"/>
<line x1="569.10" y1="447.2" x2="569.10" y2="452.7" stroke="#000" stroke-width="2.2"/>
<line x1="590.95" y1="0.9" x2="590.95" y2="6.0" stroke="#000" stroke-width="2.2"/>
<line x1="590.95" y1="447.2" x2="590.95" y2="452.7" stroke="#000" stroke-width="2.2"/>
<line x1="612.80" y1="0.9" x2="612.80" y2="10.8" stroke="#000" stroke-width="2.2"/>
<line x1="612.80" y1="447.2" x2="612.80" y2="457.0" stroke="#000" stroke-width="2.2"/>
<line x1="634.65" y1="0.9" x2="634.65" y2="6.0" stroke="#000" stroke-width="2.2"/>
<line x1="634.65" y1="447.2" x2="634.65" y2="452.7" stroke="#000" stroke-width="2.2"/>
<line x1="656.50" y1="0.9" x2="656.50" y2="6.0" stroke="#000" stroke-width="2.2"/>
<line x1="656.50" y1="447.2" x2="656.50" y2="452.7" stroke="#000" stroke-width="2.2"/>
<line x1="678.35" y1="0.9" x2="678.35" y2="6.0" stroke="#000" stroke-width="2.2"/>
<line x1="678.35" y1="447.2" x2="678.35" y2="452.7" stroke="#000" stroke-width="2.2"/>
<line x1="700.20" y1="0.9" x2="700.20" y2="10.8" stroke="#000" stroke-width="2.2"/>
<line x1="700.20" y1="447.2" x2="700.20" y2="457.0" stroke="#000" stroke-width="2.2"/>
<line x1="722.05" y1="0.9" x2="722.05" y2="6.0" stroke="#000" stroke-width="2.2"/>
<line x1="722.05" y1="447.2" x2="722.05" y2="452.7" stroke="#000" stroke-width="2.2"/>
<line x1="743.90" y1="0.9" x2="743.90" y2="6.0" stroke="#000" stroke-width="2.2"/>
<line x1="743.90" y1="447.2" x2="743.90" y2="452.7" stroke="#000" stroke-width="2.2"/>
<line x1="765.75" y1="0.9" x2="765.75" y2="6.0" stroke="#000" stroke-width="2.2"/>
<line x1="765.75" y1="447.2" x2="765.75" y2="452.7" stroke="#000" stroke-width="2.2"/>
<line x1="787.60" y1="0.9" x2="787.60" y2="10.8" stroke="#000" stroke-width="2.2"/>
<line x1="787.60" y1="447.2" x2="787.60" y2="457.0" stroke="#000" stroke-width="2.2"/>
<line x1="809.45" y1="0.9" x2="809.45" y2="6.0" stroke="#000" stroke-width="2.2"/>
<line x1="809.45" y1="447.2" x2="809.45" y2="452.7" stroke="#000" stroke-width="2.2"/>
<line x1="831.30" y1="0.9" x2="831.30" y2="6.0" stroke="#000" stroke-width="2.2"/>
<line x1="831.30" y1="447.2" x2="831.30" y2="452.7" stroke="#000" stroke-width="2.2"/>
<line x1="853.15" y1="0.9" x2="853.15" y2="6.0" stroke="#000" stroke-width="2.2"/>
<line x1="853.15" y1="447.2" x2="853.15" y2="452.7" stroke="#000" stroke-width="2.2"/>
<line x1="875.00" y1="0.9" x2="875.00" y2="10.8" stroke="#000" stroke-width="2.2"/>
<line x1="875.00" y1="447.2" x2="875.00" y2="457.0" stroke="#000" stroke-width="2.2"/>
<line x1="896.85" y1="0.9" x2="896.85" y2="6.0" stroke="#000" stroke-width="2.2"/>
<line x1="896.85" y1="447.2" x2="896.85" y2="452.7" stroke="#000" stroke-width="2.2"/>
<line x1="918.70" y1="0.9" x2="918.70" y2="6.0" stroke="#000" stroke-width="2.2"/>
<line x1="918.70" y1="447.2" x2="918.70" y2="452.7" stroke="#000" stroke-width="2.2"/>
<line x1="20.4" y1="18.10" x2="25.299999999999997" y2="18.10" stroke="#000" stroke-width="2.2"/>
<line x1="457.4" y1="18.10" x2="452.5" y2="18.10" stroke="#000" stroke-width="2.2"/>
<line x1="481.7" y1="18.10" x2="486.59999999999997" y2="18.10" stroke="#000" stroke-width="2.2"/>
<line x1="918.7" y1="18.10" x2="913.8000000000001" y2="18.10" stroke="#000" stroke-width="2.2"/>
<line x1="20.4" y1="39.56" x2="25.299999999999997" y2="39.56" stroke="#000" stroke-width="2.2"/>
<line x1="457.4" y1="39.56" x2="452.5" y2="39.56" stroke="#000" stroke-width="2.2"/>
<line x1="481.7" y1="39.56" x2="486.59999999999997" y2="39.56" stroke="#000" stroke-width="2.2"/>
<line x1="918.7" y1="39.56" x2="913.8000000000001" y2="39.56" stroke="#000" stroke-width="2.2"/>
<line x1="20.4" y1="61.03" x2="30.099999999999998" y2="61.03" stroke="#000" stroke-width="2.2"/>
<line x1="457.4" y1="61.03" x2="447.7" y2="61.03" stroke="#000" stroke-width="2.2"/>
<line x1="481.7" y1="61.03" x2="491.4" y2="61.03" stroke="#000" stroke-width="2.2"/>
<line x1="918.7" y1="61.03" x2="909.0" y2="61.03" stroke="#000" stroke-width="2.2"/>
<line x1="20.4" y1="82.50" x2="25.299999999999997" y2="82.50" stroke="#000" stroke-width="2.2"/>
<line x1="457.4" y1="82.50" x2="452.5" y2="82.50" stroke="#000" stroke-width="2.2"/>
<line x1="481.7" y1="82.50" x2="486.59999999999997" y2="82.50" stroke="#000" stroke-width="2.2"/>
<line x1="918.7" y1="82.50" x2="913.8000000000001" y2="82.50" stroke="#000" stroke-width="2.2"/>
<line x1="20.4" y1="103.96" x2="25.299999999999997" y2="103.96" stroke="#000" stroke-width="2.2"/>
<line x1="457.4" y1="103.96" x2="452.5" y2="103.96" stroke="#000" stroke-width="2.2"/>
<line x1="481.7" y1="103.96" x2="486.59999999999997" y2="103.96" stroke="#000" stroke-width="2.2"/>
<line x1="918.7" y1="103.96" x2="913.8000000000001" y2="103.96" stroke="#000" stroke-width="2.2"/>
<line x1="20.4" y1="125.43" x2="25.299999999999997" y2="125.43" stroke="#000" stroke-width="2.2"/>
<line x1="457.4" y1="125.43" x2="452.5" y2="125.43" stroke="#000" stroke-width="2.2"/>
<line x1="481.7" y1="125.43" x2="486.59999999999997" y2="125.43" stroke="#000" stroke-width="2.2"/>
<line x1="918.7" y1="125.43" x2="913.8000000000001" y2="125.43" stroke="#000" stroke-width="2.2"/>
<line x1="20.4" y1="146.89" x2="30.099999999999998" y2="146.89" stroke="#000" stroke-width="2.2"/>
<line x1="457.4" y1="146.89" x2="447.7" y2="146.89" stroke="#000" stroke-width="2.2"/>
<line x1="481.7" y1="146.89" x2="491.4" y2="146.89" stroke="#000" stroke-width="2.2"/>
<line x1="918.7" y1="146.89" x2="909.0" y2="146.89" stroke="#000" stroke-width="2.2"/>
<line x1="20.4" y1="168.35" x2="25.299999999999997" y2="168.35" stroke="#000" stroke-width="2.2"/>
<line x1="457.4" y1="168.35" x2="452.5" y2="168.35" stroke="#000" stroke-width="2.2"/>
<line x1="481.7" y1="168.35" x2="486.59999999999997" y2="168.35" stroke="#000" stroke-width="2.2"/>
<line x1="918.7" y1="168.35" x2="913.8000000000001" y2="168.35" stroke="#000" stroke-width="2.2"/>
<line x1="20.4" y1="189.82" x2="25.299999999999997" y2="189.82" stroke="#000" stroke-width="2.2"/>
<line x1="457.4" y1="189.82" x2="452.5" y2="189.82" stroke="#000" stroke-width="2.2"/>
<line x1="481.7" y1="189.82" x2="486.59999999999997" y2="189.82" stroke="#000" stroke-width="2.2"/>
<line x1="918.7" y1="189.82" x2="913.8000000000001" y2="189.82" stroke="#000" stroke-width="2.2"/>
<line x1="20.4" y1="211.28" x2="25.299999999999997" y2="211.28" stroke="#000" stroke-width="2.2"/>
<line x1="457.4" y1="211.28" x2="452.5" y2="211.28" stroke="#000" stroke-width="2.2"/>
<line x1="481.7" y1="211.28" x2="486.59999999999997" y2="211.28" stroke="#000" stroke-width="2.2"/>
<line x1="918.7" y1="211.28" x2="913.8000000000001" y2="211.28" stroke="#000" stroke-width="2.2"/>
<line x1="20.4" y1="232.75" x2="30.099999999999998" y2="232.75" stroke="#000" stroke-width="2.2"/>
<line x1="457.4" y1="232.75" x2="447.7" y2="232.75" stroke="#000" stroke-width="2.2"/>
<line x1="481.7" y1="232.75" x2="491.4" y2="232.75" stroke="#000" stroke-width="2.2"/>
<line x1="918.7" y1="232.75" x2="909.0" y2="232.75" stroke="#000" stroke-width="2.2"/>
<line x1="20.4" y1="254.22" x2="25.299999999999997" y2="254.22" stroke="#000" stroke-width="2.2"/>
<line x1="457.4" y1="254.22" x2="452.5" y2="254.22" stroke="#000" stroke-width="2.2"/>
<line x1="481.7" y1="254.22" x2="486.59999999999997" y2="254.22" stroke="#000" stroke-width="2.2"/>
<line x1="918.7" y1="254.22" x2="913.8000000000001" y2="254.22" stroke="#000" stroke-width="2.2"/>
<line x1="20.4" y1="275.68" x2="25.299999999999997" y2="275.68" stroke="#000" stroke-width="2.2"/>
<line x1="457.4" y1="275.68" x2="452.5" y2="275.68" stroke="#000" stroke-width="2.2"/>
<line x1="481.7" y1="275.68" x2="486.59999999999997" y2="275.68" stroke="#000" stroke-width="2.2"/>
<line x1="918.7" y1="275.68" x2="913.8000000000001" y2="275.68" stroke="#000" stroke-width="2.2"/>
<line x1="20.4" y1="297.15" x2="25.299999999999997" y2="297.15" stroke="#000" stroke-width="2.2"/>
<line x1="457.4" y1="297.15" x2="452.5" y2="297.15" stroke="#000" stroke-width="2.2"/>
<line x1="481.7" y1="297.15" x2="486.59999999999997" y2="297.15" stroke="#000" stroke-width="2.2"/>
<line x1="918.7" y1="297.15" x2="913.8000000000001" y2="297.15" stroke="#000" stroke-width="2.2"/>
<line x1="20.4" y1="318.61" x2="30.099999999999998" y2="318.61" stroke="#000" stroke-width="2.2"/>
<line x1="457.4" y1="318.61" x2="447.7" y2="318.61" stroke="#000" stroke-width="2.2"/>
<line x1="481.7" y1="318.61" x2="491.4" y2="318.61" stroke="#000" stroke-width="2.2"/>
<line x1="918.7" y1="318.61" x2="909.0" y2="318.61" stroke="#000" stroke-width="2.2"/>
<line x1="20.4" y1="340.08" x2="25.299999999999997" y2="340.08" stroke="#000" stroke-width="2.2"/>
<line x1="457.4" y1="340.08" x2="452.5" y2="340.08" stroke="#000" stroke-width="2.2"/>
<line x1="481.7" y1="340.08" x2="486.59999999999997" y2="340.08" stroke="#000" stroke-width="2.2"/>
<line x1="918.7" y1="340.08" x2="913.8000000000001" y2="340.08" stroke="#000" stroke-width="2.2"/>
<line x1="20.4" y1="361.54" x2="25.299999999999997" y2="361.54" stroke="#000" stroke-width="2.2"/>
<line x1="457.4" y1="361.54" x2="452.5" y2="361.54" stroke="#000" stroke-width="2.2"/>
<line x1="481.7" y1="361.54" x2="486.59999999999997" y2="361.54" stroke="#000" stroke-width="2.2"/>
<line x1="918.7" y1="361.54" x2="913.8000000000001" y2="361.54" stroke="#000" stroke-width="2.2"/>
<line x1="20.4" y1="383.00" x2="25.299999999999997" y2="383.00" stroke="#000" stroke-width="2.2"/>
<line x1="457.4" y1="383.00" x2="452.5" y2="383.00" stroke="#000" stroke-width="2.2"/>
<line x1="481.7" y1="383.00" x2="486.59999999999997" y2="383.00" stroke="#000" stroke-width="2.2"/>
<line x1="918.7" y1="383.00" x2="913.8000000000001" y2="383.00" stroke="#000" stroke-width="2.2"/>
<line x1="20.4" y1="404.47" x2="30.099999999999998" y2="404.47" stroke="#000" stroke-width="2.2"/>
<line x1="457.4" y1="404.47" x2="447.7" y2="404.47" stroke="#000" stroke-width="2.2"/>
<line x1="481.7" y1="404.47" x2="491.4" y2="404.47" stroke="#000" stroke-width="2.2"/>
<line x1="918.7" y1="404.47" x2="909.0" y2="404.47" stroke="#000" stroke-width="2.2"/>
<line x1="20.4" y1="425.94" x2="25.299999999999997" y2="425.94" stroke="#000" stroke-width="2.2"/>
<line x1="457.4" y1="425.94" x2="452.5" y2="425.94" stroke="#000" stroke-width="2.2"/>
<line x1="481.7" y1="425.94" x2="486.59999999999997" y2="425.94" stroke="#000" stroke-width="2.2"/>
<line x1="918.7" y1="425.94" x2="913.8000000000001" y2="425.94" stroke="#000" stroke-width="2.2"/>
<text transform="translate(71.8,475.9) scale(1,1.055)" font-size="14.7" text-anchor="middle" >190</text>
<text transform="translate(136.1,475.9) scale(1,1.055)" font-size="14.7" text-anchor="middle" >195</text>
<text transform="translate(200.3,475.9) scale(1,1.055)" font-size="14.7" text-anchor="middle" >200</text>
<text transform="translate(264.6,475.9) scale(1,1.055)" font-size="14.7" text-anchor="middle" >205</text>
<text transform="translate(328.9,475.9) scale(1,1.055)" font-size="14.7" text-anchor="middle" >210</text>
<text transform="translate(393.1,475.9) scale(1,1.055)" font-size="14.7" text-anchor="middle" >215</text>
<text transform="translate(457.4,475.9) scale(1,1.055)" font-size="14.7" text-anchor="middle" >220</text>
<text transform="translate(525.4,475.9) scale(1,1.055)" font-size="14.7" text-anchor="middle" >525</text>
<text transform="translate(612.8,475.9) scale(1,1.055)" font-size="14.7" text-anchor="middle" >535</text>
<text transform="translate(700.2,475.9) scale(1,1.055)" font-size="14.7" text-anchor="middle" >545</text>
<text transform="translate(787.6,475.9) scale(1,1.055)" font-size="14.7" text-anchor="middle" >555</text>
<text transform="translate(875.0,475.9) scale(1,1.055)" font-size="14.7" text-anchor="middle" >565</text>
<text transform="translate(239.7,504) scale(1,1.055)" font-size="14.8" text-anchor="middle" >Photon Energy (eV)</text>
<text transform="translate(700.7,504) scale(1,1.055)" font-size="14.8" text-anchor="middle" >Photon Energy (eV)</text>
<text transform="translate(13.8,225.7) rotate(-90) scale(1.043,1)" font-size="15.0" text-anchor="middle">Normalised Intensity (a.u)</text>
<text transform="translate(31.4,29.7) scale(1,1.055)" font-size="15.0" text-anchor="start" >(a)</text>
<text transform="translate(494.3,28.0) scale(1,1.055)" font-size="15.0" text-anchor="start" >(b)</text>
<text transform="translate(60.6,139.6) scale(1,1.055)" font-size="15.0">B<tspan font-size="10.0" dy="4.2" dx="0.2">191</tspan></text>
<text transform="translate(116.9,140.4) scale(1,1.055)" font-size="15.0">B<tspan font-size="10.0" dy="4.2" dx="0.2">194</tspan></text>
<text transform="translate(86.1,293.9) scale(1,1.055)" font-size="15.0">B<tspan font-size="10.0" dy="4.2" dx="0.2">192</tspan></text>
<text transform="translate(198.4,294.7) scale(1,1.055)" font-size="15.0">B<tspan font-size="10.0" dy="4.2" dx="0.2">200</tspan></text>
<text transform="translate(257.9,294.7) scale(1,1.055)" font-size="15.0">B<tspan font-size="10.0" dy="4.2" dx="0.2">205</tspan></text>
<text transform="translate(600.5,242.5) scale(1,1.055)" font-size="15.0">O<tspan font-size="10.0" dy="4.2" dx="0.2">534</tspan></text>
<text transform="translate(639.8,237.4) scale(1,1.055)" font-size="15.0">O<tspan font-size="10.0" dy="4.2" dx="0.2">538</tspan></text>
<text transform="translate(698.8,238.1) scale(1,1.055)" font-size="15.0">O<tspan font-size="10.0" dy="4.2" dx="0.2">546</tspan></text>
<text transform="translate(566.6,289.0) scale(1,1.055)" font-size="15.0">O<tspan font-size="10.0" dy="4.2" dx="0.2">531</tspan></text>
<rect x="214.9" y="15.2" width="227.1" height="124.4" fill="#fff" stroke="#000" stroke-width="1.5"/>
<line x1="216.2" y1="27.1" x2="253" y2="27.1" stroke="#000000" stroke-width="2.5"/>
<text transform="translate(256.3,32.8) scale(1,1.055)" font-size="14.7">Annealed, 20</text>
<text transform="translate(343.6,27.9) scale(1,1.055)" font-size="9.4">o</text>
<text transform="translate(353.4,32.8) scale(1,1.055)" font-size="14.9">incidence</text>
<line x1="216.2" y1="47.4" x2="253" y2="47.4" stroke="#800000" stroke-width="2.5"/>
<text transform="translate(256.3,53.1) scale(1,1.055)" font-size="14.7">Annealed, 40</text>
<text transform="translate(343.6,48.2) scale(1,1.055)" font-size="9.4">o</text>
<text transform="translate(353.4,53.1) scale(1,1.055)" font-size="14.9">incidence</text>
<line x1="216.2" y1="67.7" x2="253" y2="67.7" stroke="#ff0000" stroke-width="2.5"/>
<text transform="translate(256.3,73.4) scale(1,1.055)" font-size="14.7">Annealed, 55</text>
<text transform="translate(343.6,68.5) scale(1,1.055)" font-size="9.4">o</text>
<text transform="translate(353.4,73.4) scale(1,1.055)" font-size="14.9">incidence</text>
<line x1="216.2" y1="88.0" x2="253" y2="88.0" stroke="#4db8ff" stroke-width="2.5"/>
<text transform="translate(256.3,93.7) scale(1,1.055)" font-size="14.7">Annealed, 70</text>
<text transform="translate(343.6,88.8) scale(1,1.055)" font-size="9.4">o</text>
<text transform="translate(353.4,93.7) scale(1,1.055)" font-size="14.9">incidence</text>
<line x1="216.2" y1="108.3" x2="253" y2="108.3" stroke="#0000ff" stroke-width="2.5"/>
<text transform="translate(256.3,114.0) scale(1,1.055)" font-size="14.7">Annealed, 90</text>
<text transform="translate(343.6,109.1) scale(1,1.055)" font-size="9.4">o</text>
<text transform="translate(353.4,114.0) scale(1,1.055)" font-size="14.9">incidence</text>
<line x1="216.2" y1="128.6" x2="253" y2="128.6" stroke="#808080" stroke-width="2.5"/>
<text transform="translate(256.3,134.3) scale(1,1.055)" font-size="14.7">As deposited, 55</text>
<text transform="translate(367.3,129.4) scale(1,1.055)" font-size="9.4">o</text>
<text transform="translate(377.3,134.3) scale(1,1.055)" font-size="14.9">incidence</text>
</svg>
</body></html>
